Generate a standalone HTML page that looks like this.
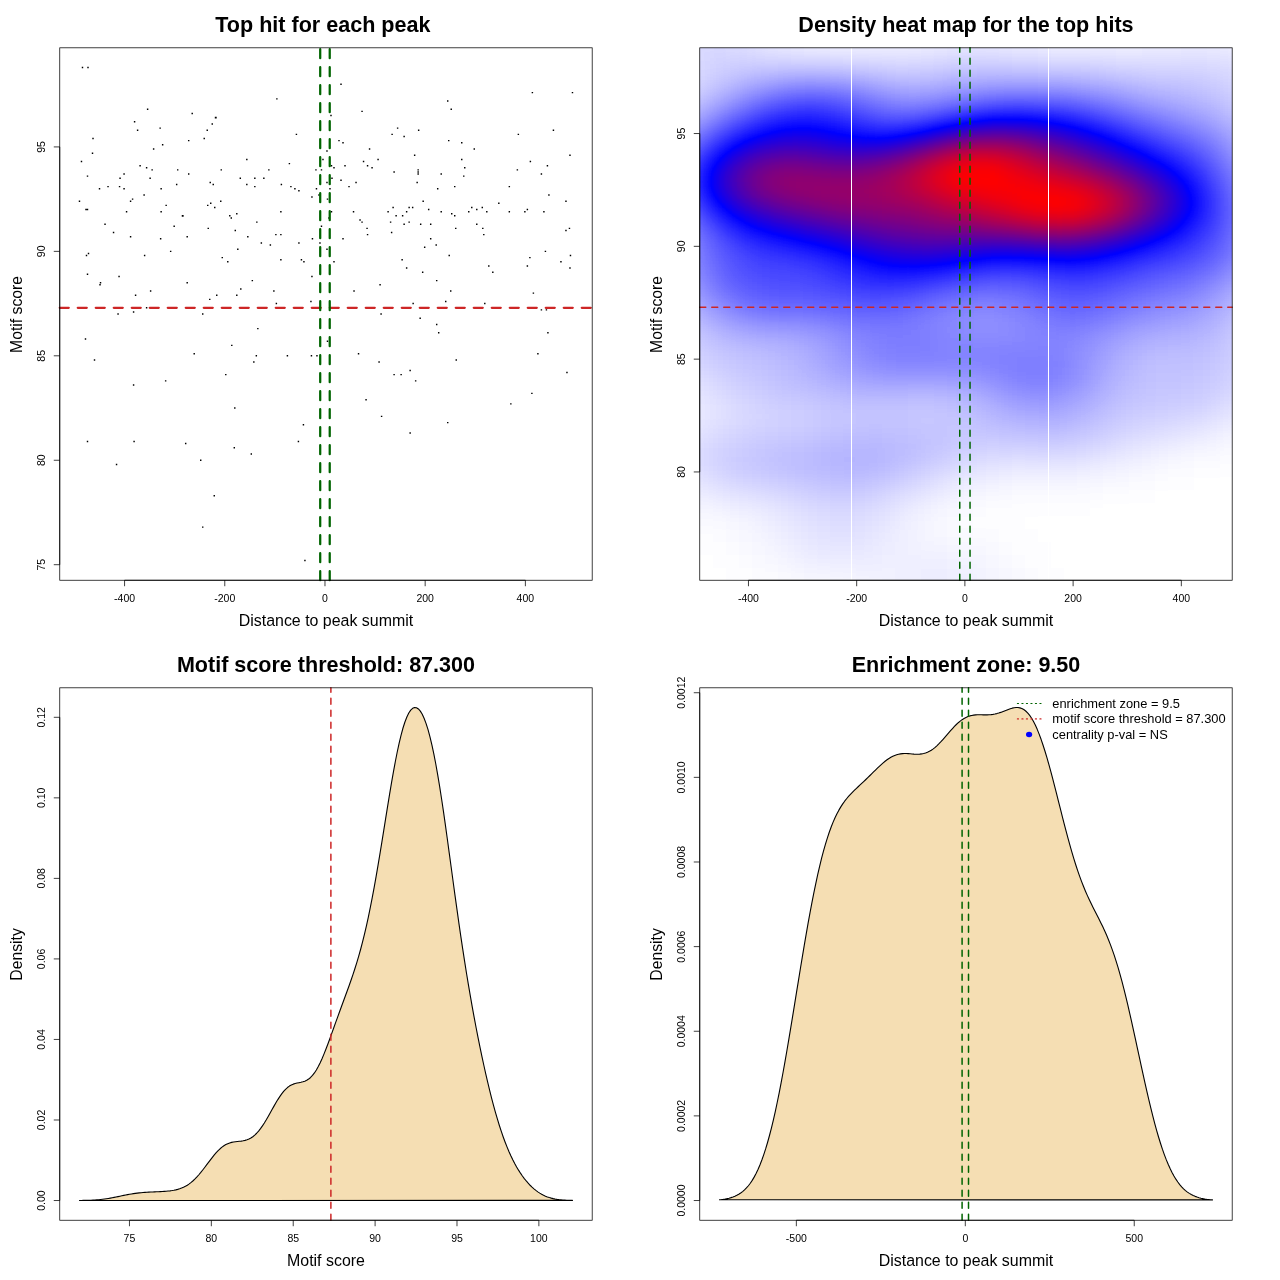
<!DOCTYPE html>
<html><head><meta charset="utf-8"><title>plot</title>
<style>html,body{margin:0;padding:0;background:#fff}svg{display:block;will-change:transform}text{font-family:"Liberation Sans",sans-serif;fill:#000}</style>
</head><body>
<svg width="1280" height="1280" viewBox="0 0 1280 1280">
<rect width="1280" height="1280" fill="#fff"/>
<path d="M81.77 66.81h1.44v1.44h-1.44zM87.28 66.81h1.44v1.44h-1.44zM146.9 108.59h1.44v1.44h-1.44zM191.49 112.77h1.44v1.44h-1.44zM214.8 116.71h1.9v1.9h-1.9zM133.87 121.12h1.44v1.44h-1.44zM211.53 123.21h1.44v1.44h-1.44zM159.42 127.39h1.44v1.44h-1.44zM136.88 129.48h1.44v1.44h-1.44zM206.52 129.48h1.44v1.44h-1.44zM92.29 137.83h1.44v1.44h-1.44zM203.51 137.83h1.44v1.44h-1.44zM187.98 139.92h1.44v1.44h-1.44zM161.93 144.1h1.44v1.44h-1.44zM152.91 148.28h1.44v1.44h-1.44zM91.79 152.46h1.44v1.44h-1.44zM80.76 160.81h1.44v1.44h-1.44zM139.38 164.99h1.44v1.44h-1.44zM145.89 167.08h1.44v1.44h-1.44zM151.41 169.17h1.44v1.44h-1.44zM176.96 169.17h1.44v1.44h-1.44zM220.54 169.17h1.44v1.44h-1.44zM123.35 173.35h1.44v1.44h-1.44zM187.98 173.35h1.44v1.44h-1.44zM86.78 175.43h1.44v1.44h-1.44zM119.34 177.52h1.44v1.44h-1.44zM149.4 177.52h1.44v1.44h-1.44zM209.52 181.7h1.44v1.44h-1.44zM212.53 183.79h1.44v1.44h-1.44zM175.95 183.79h1.44v1.44h-1.44zM107.32 185.88h1.44v1.44h-1.44zM118.84 185.88h1.44v1.44h-1.44zM98.8 187.97h1.44v1.44h-1.44zM123.35 187.97h1.44v1.44h-1.44zM160.42 187.97h1.44v1.44h-1.44zM143.39 194.24h1.44v1.44h-1.44zM131.87 198.41h1.44v1.44h-1.44zM129.86 200.5h1.44v1.44h-1.44zM78.76 200.5h1.44v1.44h-1.44zM220.04 200.5h1.44v1.44h-1.44zM210.02 202.59h1.44v1.44h-1.44zM207.02 204.68h1.44v1.44h-1.44zM165.43 204.68h1.44v1.44h-1.44zM214.03 206.77h1.44v1.44h-1.44zM85.27 208.86h1.44v1.44h-1.44zM86.78 208.86h1.44v1.44h-1.44zM125.85 210.95h1.44v1.44h-1.44zM160.42 210.95h1.44v1.44h-1.44zM181.74 214.89h1.9v1.9h-1.9zM229.06 215.12h1.44v1.44h-1.44zM230.56 217.21h1.44v1.44h-1.44zM104.31 223.48h1.44v1.44h-1.44zM340.29 83.52h1.44v1.44h-1.44zM276.16 98.14h1.44v1.44h-1.44zM361.33 110.68h1.44v1.44h-1.44zM330.27 114.86h1.44v1.44h-1.44zM396.9 127.39h1.44v1.44h-1.44zM295.7 133.66h1.44v1.44h-1.44zM391.39 133.66h1.44v1.44h-1.44zM403.41 135.74h1.44v1.44h-1.44zM338.28 139.92h1.44v1.44h-1.44zM342.29 142.01h1.44v1.44h-1.44zM368.84 148.28h1.44v1.44h-1.44zM326.26 150.37h1.44v1.44h-1.44zM413.93 154.55h1.44v1.44h-1.44zM246.1 158.72h1.44v1.44h-1.44zM322.25 158.72h1.44v1.44h-1.44zM377.36 158.72h1.44v1.44h-1.44zM362.83 160.81h1.44v1.44h-1.44zM288.68 162.9h1.44v1.44h-1.44zM330.77 164.99h1.44v1.44h-1.44zM344.29 164.99h1.44v1.44h-1.44zM366.84 164.99h1.44v1.44h-1.44zM333.27 167.08h1.44v1.44h-1.44zM371.35 167.08h1.44v1.44h-1.44zM268.14 169.17h1.44v1.44h-1.44zM315.23 169.17h1.44v1.44h-1.44zM320.75 169.17h1.44v1.44h-1.44zM393.39 171.26h1.44v1.44h-1.44zM239.58 177.52h1.44v1.44h-1.44zM254.11 177.52h1.44v1.44h-1.44zM263.13 177.52h1.44v1.44h-1.44zM331.27 177.52h1.44v1.44h-1.44zM340.29 179.61h1.44v1.44h-1.44zM326.26 181.7h1.44v1.44h-1.44zM355.32 181.7h1.44v1.44h-1.44zM246.1 183.79h1.44v1.44h-1.44zM280.67 183.79h1.44v1.44h-1.44zM254.11 185.88h1.44v1.44h-1.44zM290.18 185.88h1.44v1.44h-1.44zM348.3 185.88h1.44v1.44h-1.44zM294.19 187.97h1.44v1.44h-1.44zM315.74 187.97h1.44v1.44h-1.44zM329.26 187.97h1.44v1.44h-1.44zM298.2 190.06h1.44v1.44h-1.44zM318.24 194.24h1.44v1.44h-1.44zM311.23 196.32h1.44v1.44h-1.44zM326.76 198.41h1.44v1.44h-1.44zM392.39 206.77h1.44v1.44h-1.44zM408.42 206.77h1.44v1.44h-1.44zM411.93 206.77h1.44v1.44h-1.44zM280.16 210.95h1.44v1.44h-1.44zM330.77 210.95h1.44v1.44h-1.44zM352.81 210.95h1.44v1.44h-1.44zM387.38 210.95h1.44v1.44h-1.44zM405.92 210.95h1.44v1.44h-1.44zM236.08 213.04h1.44v1.44h-1.44zM395.4 215.12h1.44v1.44h-1.44zM401.91 215.12h1.44v1.44h-1.44zM328.26 217.21h1.44v1.44h-1.44zM359.32 219.3h1.44v1.44h-1.44zM256.12 221.39h1.44v1.44h-1.44zM361.33 221.39h1.44v1.44h-1.44zM389.88 221.39h1.44v1.44h-1.44zM408.42 221.39h1.44v1.44h-1.44zM403.41 223.48h1.44v1.44h-1.44zM531.67 91.88h1.44v1.44h-1.44zM571.75 91.88h1.44v1.44h-1.44zM447 100.23h1.44v1.44h-1.44zM450.51 108.59h1.44v1.44h-1.44zM417.94 129.48h1.44v1.44h-1.44zM552.71 129.48h1.44v1.44h-1.44zM517.64 133.66h1.44v1.44h-1.44zM448 139.92h1.44v1.44h-1.44zM461.03 142.01h1.44v1.44h-1.44zM473.55 148.28h1.44v1.44h-1.44zM569.25 154.55h1.44v1.44h-1.44zM461.03 158.72h1.44v1.44h-1.44zM529.67 160.81h1.44v1.44h-1.44zM546.7 164.99h1.44v1.44h-1.44zM464.03 167.08h1.44v1.44h-1.44zM516.64 169.17h1.44v1.44h-1.44zM417.44 169.17h1.44v1.44h-1.44zM417.44 171.26h1.44v1.44h-1.44zM417.44 173.35h1.44v1.44h-1.44zM440.49 173.35h1.44v1.44h-1.44zM540.69 173.35h1.44v1.44h-1.44zM463.03 175.43h1.44v1.44h-1.44zM416.44 181.7h1.44v1.44h-1.44zM454.01 185.88h1.44v1.44h-1.44zM508.62 185.88h1.44v1.44h-1.44zM436.98 187.97h1.44v1.44h-1.44zM548.2 194.24h1.44v1.44h-1.44zM422.45 200.5h1.44v1.44h-1.44zM565.24 200.5h1.44v1.44h-1.44zM498.1 202.59h1.44v1.44h-1.44zM471.05 206.77h1.44v1.44h-1.44zM481.57 206.77h1.44v1.44h-1.44zM427.96 208.86h1.44v1.44h-1.44zM476.06 208.86h1.44v1.44h-1.44zM526.66 208.86h1.44v1.44h-1.44zM440.49 210.95h1.44v1.44h-1.44zM468.04 210.95h1.44v1.44h-1.44zM486.08 210.95h1.44v1.44h-1.44zM508.62 210.95h1.44v1.44h-1.44zM524.15 210.95h1.44v1.44h-1.44zM543.19 210.95h1.44v1.44h-1.44zM451.01 213.04h1.44v1.44h-1.44zM454.01 215.12h1.44v1.44h-1.44zM419.95 223.48h1.44v1.44h-1.44zM429.97 223.48h1.44v1.44h-1.44zM476.06 223.48h1.44v1.44h-1.44zM173.45 225.57h1.44v1.44h-1.44zM207.52 227.66h1.44v1.44h-1.44zM234.57 229.75h1.44v1.44h-1.44zM112.83 231.84h1.44v1.44h-1.44zM129.86 236.01h1.44v1.44h-1.44zM186.48 236.01h1.44v1.44h-1.44zM159.92 238.1h1.44v1.44h-1.44zM169.94 250.64h1.44v1.44h-1.44zM87.78 252.73h1.44v1.44h-1.44zM85.77 254.81h1.44v1.44h-1.44zM143.89 254.81h1.44v1.44h-1.44zM221.55 256.9h1.44v1.44h-1.44zM227.06 261.08h1.44v1.44h-1.44zM86.78 273.62h1.44v1.44h-1.44zM118.34 275.7h1.44v1.44h-1.44zM99.8 281.97h1.44v1.44h-1.44zM99.3 284.06h1.44v1.44h-1.44zM186.48 281.97h1.44v1.44h-1.44zM149.9 290.33h1.44v1.44h-1.44zM134.87 294.5h1.44v1.44h-1.44zM216.04 294.5h1.44v1.44h-1.44zM209.02 298.68h1.44v1.44h-1.44zM145.89 307.04h1.44v1.44h-1.44zM132.87 311.22h1.44v1.44h-1.44zM117.34 313.3h1.44v1.44h-1.44zM202.01 313.3h1.44v1.44h-1.44zM84.77 338.37h1.44v1.44h-1.44zM231.07 344.64h1.44v1.44h-1.44zM193.49 352.99h1.44v1.44h-1.44zM93.79 359.26h1.44v1.44h-1.44zM225.05 373.88h1.44v1.44h-1.44zM164.93 380.15h1.44v1.44h-1.44zM132.87 384.33h1.44v1.44h-1.44zM320.75 225.57h1.44v1.44h-1.44zM366.34 227.66h1.44v1.44h-1.44zM390.89 231.84h1.44v1.44h-1.44zM275.15 233.93h1.44v1.44h-1.44zM280.16 233.93h1.44v1.44h-1.44zM366.84 233.93h1.44v1.44h-1.44zM247.1 236.01h1.44v1.44h-1.44zM311.73 238.1h1.44v1.44h-1.44zM342.29 238.1h1.44v1.44h-1.44zM260.63 242.28h1.44v1.44h-1.44zM298.2 242.28h1.44v1.44h-1.44zM319.24 242.28h1.44v1.44h-1.44zM269.64 244.37h1.44v1.44h-1.44zM237.08 248.55h1.44v1.44h-1.44zM326.26 248.55h1.44v1.44h-1.44zM280.16 258.99h1.44v1.44h-1.44zM300.71 258.99h1.44v1.44h-1.44zM303.21 261.08h1.44v1.44h-1.44zM401.41 258.99h1.44v1.44h-1.44zM333.27 261.08h1.44v1.44h-1.44zM405.92 267.35h1.44v1.44h-1.44zM311.23 275.7h1.44v1.44h-1.44zM251.61 279.88h1.44v1.44h-1.44zM379.36 284.06h1.44v1.44h-1.44zM240.08 288.24h1.44v1.44h-1.44zM273.15 290.33h1.44v1.44h-1.44zM353.31 290.33h1.44v1.44h-1.44zM236.08 294.5h1.44v1.44h-1.44zM310.22 300.77h1.44v1.44h-1.44zM275.66 302.86h1.44v1.44h-1.44zM412.43 302.86h1.44v1.44h-1.44zM380.37 313.3h1.44v1.44h-1.44zM257.12 327.93h1.44v1.44h-1.44zM326.76 340.46h1.44v1.44h-1.44zM357.82 352.99h1.44v1.44h-1.44zM255.62 355.08h1.44v1.44h-1.44zM286.68 355.08h1.44v1.44h-1.44zM310.73 355.08h1.44v1.44h-1.44zM316.24 355.08h1.44v1.44h-1.44zM253.11 361.35h1.44v1.44h-1.44zM378.36 361.35h1.44v1.44h-1.44zM409.42 369.71h1.44v1.44h-1.44zM393.39 373.88h1.44v1.44h-1.44zM400.41 373.88h1.44v1.44h-1.44zM414.94 380.15h1.44v1.44h-1.44zM365.34 398.95h1.44v1.44h-1.44zM455.02 227.66h1.44v1.44h-1.44zM482.07 227.66h1.44v1.44h-1.44zM568.74 227.66h1.44v1.44h-1.44zM565.24 229.75h1.44v1.44h-1.44zM483.07 233.93h1.44v1.44h-1.44zM429.97 238.1h1.44v1.44h-1.44zM435.48 244.37h1.44v1.44h-1.44zM423.95 246.46h1.44v1.44h-1.44zM544.7 250.64h1.44v1.44h-1.44zM448.5 254.81h1.44v1.44h-1.44zM569.75 254.81h1.44v1.44h-1.44zM529.16 256.9h1.44v1.44h-1.44zM560.23 261.08h1.44v1.44h-1.44zM488.08 265.26h1.44v1.44h-1.44zM526.66 265.26h1.44v1.44h-1.44zM569.25 267.35h1.44v1.44h-1.44zM421.95 271.53h1.44v1.44h-1.44zM492.09 271.53h1.44v1.44h-1.44zM435.98 279.88h1.44v1.44h-1.44zM450.01 290.33h1.44v1.44h-1.44zM532.67 292.42h1.44v1.44h-1.44zM445 300.77h1.44v1.44h-1.44zM484.07 302.86h1.44v1.44h-1.44zM540.69 309.13h1.44v1.44h-1.44zM545.7 309.13h1.44v1.44h-1.44zM419.44 317.48h1.44v1.44h-1.44zM435.98 323.75h1.44v1.44h-1.44zM437.98 332.11h1.44v1.44h-1.44zM547.2 332.11h1.44v1.44h-1.44zM537.18 352.99h1.44v1.44h-1.44zM455.52 359.26h1.44v1.44h-1.44zM566.24 371.8h1.44v1.44h-1.44zM531.17 392.68h1.44v1.44h-1.44zM510.13 403.13h1.44v1.44h-1.44zM234.07 407.31h1.44v1.44h-1.44zM86.78 440.73h1.44v1.44h-1.44zM133.37 440.73h1.44v1.44h-1.44zM184.97 442.82h1.44v1.44h-1.44zM233.57 447h1.44v1.44h-1.44zM200 459.53h1.44v1.44h-1.44zM115.83 463.71h1.44v1.44h-1.44zM213.53 495.04h1.44v1.44h-1.44zM202.01 526.38h1.44v1.44h-1.44zM380.87 415.66h1.44v1.44h-1.44zM302.71 424.02h1.44v1.44h-1.44zM409.42 432.37h1.44v1.44h-1.44zM297.7 440.73h1.44v1.44h-1.44zM250.6 453.26h1.44v1.44h-1.44zM304.21 559.8h1.44v1.44h-1.44zM447 421.93h1.44v1.44h-1.44z" fill="#000"/>
<path d="M59.76 307.76L592.19 307.76" stroke="#cd2626" stroke-width="2.25" stroke-dasharray="9 9" stroke-linecap="round" fill="none"/>
<path d="M320.21 580.24L320.21 47.81" stroke="#006400" stroke-width="2.25" stroke-dasharray="9 9" stroke-linecap="round" fill="none"/>
<path d="M329.73 580.24L329.73 47.81" stroke="#006400" stroke-width="2.25" stroke-dasharray="9 9" stroke-linecap="round" fill="none"/>
<rect x="59.76" y="47.81" width="532.43" height="532.43" fill="none" stroke="#000" stroke-width="0.75"/>
<path d="M124.57 580.24H525.38M124.57 580.24v5.98M224.77 580.24v5.98M324.97 580.24v5.98M425.17 580.24v5.98M525.38 580.24v5.98M59.76 146.91V564.7M59.76 564.7h-5.98M59.76 460.25h-5.98M59.76 355.8h-5.98M59.76 251.36h-5.98M59.76 146.91h-5.98" fill="none" stroke="#000" stroke-width="0.75"/>
<g font-size="10.5" text-anchor="middle">
<text x="124.57" y="601.7">-400</text>
<text x="224.77" y="601.7">-200</text>
<text x="324.97" y="601.7">0</text>
<text x="425.17" y="601.7">200</text>
<text x="525.38" y="601.7">400</text>
<text transform="translate(45.4 564.7) rotate(-90)">75</text>
<text transform="translate(45.4 460.25) rotate(-90)">80</text>
<text transform="translate(45.4 355.8) rotate(-90)">85</text>
<text transform="translate(45.4 251.36) rotate(-90)">90</text>
<text transform="translate(45.4 146.91) rotate(-90)">95</text>
</g>
<text x="325.98" y="625.7" font-size="15.95" text-anchor="middle">Distance to peak summit</text>
<text transform="translate(21.5 314.42) rotate(-90)" font-size="15.75" text-anchor="middle">Motif score</text>
<text x="322.88" y="31.9" font-size="21.55" font-weight="bold" text-anchor="middle">Top hit for each peak</text>
<defs><clipPath id="hc"><rect x="699.76" y="47.81" width="532.43" height="532.43"/></clipPath>
<filter id="hf" filterUnits="userSpaceOnUse" x="660.76" y="8.81" width="611" height="611" color-interpolation-filters="sRGB"><feGaussianBlur stdDeviation="7.0"/><feComponentTransfer><feFuncR type="table" tableValues="1 0 1"/><feFuncG type="table" tableValues="1 0 0"/><feFuncB type="table" tableValues="1 1 0"/></feComponentTransfer></filter></defs>
<g clip-path="url(#hc)"><g filter="url(#hf)" shape-rendering="crispEdges">
<rect x="660.76" y="8.81" width="611" height="611" fill="#000"/>
<g transform="translate(0 8.81)"><rect x="660.76" width="13" height="13" fill="#060606"/><rect x="673.76" width="13" height="13" fill="#070707"/><rect x="686.76" width="13" height="13" fill="#080808"/><rect x="699.76" width="13" height="13" fill="#080808"/><rect x="712.76" width="13" height="13" fill="#080808"/><rect x="725.76" width="13" height="13" fill="#070707"/><rect x="738.76" width="13" height="13" fill="#060606"/><rect x="751.76" width="13" height="13" fill="#050505"/><rect x="764.76" width="13" height="13" fill="#040404"/><rect x="777.76" width="13" height="13" fill="#030303"/><rect x="790.76" width="13" height="13" fill="#020202"/><rect x="803.76" width="13" height="13" fill="#010101"/><rect x="816.76" width="13" height="13" fill="#010101"/><rect x="829.76" width="13" height="13" fill="#010101"/><rect x="842.76" width="13" height="13" fill="#010101"/><rect x="855.76" width="13" height="13" fill="#010101"/><rect x="868.76" width="13" height="13" fill="#010101"/><rect x="881.76" width="13" height="13" fill="#010101"/><rect x="894.76" width="13" height="13" fill="#010101"/><rect x="907.76" width="13" height="13" fill="#010101"/><rect x="920.76" width="13" height="13" fill="#010101"/><rect x="933.76" width="13" height="13" fill="#020202"/><rect x="946.76" width="13" height="13" fill="#020202"/><rect x="959.76" width="13" height="13" fill="#020202"/><rect x="972.76" width="13" height="13" fill="#020202"/><rect x="985.76" width="13" height="13" fill="#020202"/><rect x="998.76" width="13" height="13" fill="#020202"/><rect x="1011.76" width="13" height="13" fill="#020202"/><rect x="1024.76" width="13" height="13" fill="#010101"/><rect x="1037.76" width="13" height="13" fill="#010101"/><rect x="1050.76" width="13" height="13" fill="#010101"/><rect x="1063.76" width="13" height="13" fill="#010101"/><rect x="1076.76" width="13" height="13" fill="#010101"/><rect x="1089.76" width="13" height="13" fill="#010101"/><rect x="1102.76" width="13" height="13" fill="#010101"/><rect x="1115.76" width="13" height="13" fill="#010101"/><rect x="1128.76" width="13" height="13" fill="#010101"/><rect x="1141.76" width="13" height="13" fill="#010101"/><rect x="1154.76" width="13" height="13" fill="#010101"/><rect x="1167.76" width="13" height="13" fill="#010101"/><rect x="1180.76" width="13" height="13" fill="#010101"/><rect x="1193.76" width="13" height="13" fill="#010101"/><rect x="1206.76" width="13" height="13" fill="#010101"/><rect x="1219.76" width="13" height="13" fill="#010101"/><rect x="1232.76" width="13" height="13" fill="#010101"/><rect x="1245.76" width="13" height="13" fill="#010101"/><rect x="1258.76" width="13" height="13" fill="#010101"/></g>
<g transform="translate(0 21.81)"><rect x="660.76" width="13" height="13" fill="#0a0a0a"/><rect x="673.76" width="13" height="13" fill="#0c0c0c"/><rect x="686.76" width="13" height="13" fill="#0d0d0d"/><rect x="699.76" width="13" height="13" fill="#0e0e0e"/><rect x="712.76" width="13" height="13" fill="#0d0d0d"/><rect x="725.76" width="13" height="13" fill="#0c0c0c"/><rect x="738.76" width="13" height="13" fill="#0b0b0b"/><rect x="751.76" width="13" height="13" fill="#090909"/><rect x="764.76" width="13" height="13" fill="#070707"/><rect x="777.76" width="13" height="13" fill="#050505"/><rect x="790.76" width="13" height="13" fill="#040404"/><rect x="803.76" width="13" height="13" fill="#030303"/><rect x="816.76" width="13" height="13" fill="#020202"/><rect x="829.76" width="13" height="13" fill="#020202"/><rect x="842.76" width="13" height="13" fill="#020202"/><rect x="855.76" width="13" height="13" fill="#020202"/><rect x="868.76" width="13" height="13" fill="#020202"/><rect x="881.76" width="13" height="13" fill="#020202"/><rect x="894.76" width="13" height="13" fill="#030303"/><rect x="907.76" width="13" height="13" fill="#030303"/><rect x="920.76" width="13" height="13" fill="#040404"/><rect x="933.76" width="13" height="13" fill="#040404"/><rect x="946.76" width="13" height="13" fill="#040404"/><rect x="959.76" width="13" height="13" fill="#050505"/><rect x="972.76" width="13" height="13" fill="#050505"/><rect x="985.76" width="13" height="13" fill="#050505"/><rect x="998.76" width="13" height="13" fill="#040404"/><rect x="1011.76" width="13" height="13" fill="#040404"/><rect x="1024.76" width="13" height="13" fill="#030303"/><rect x="1037.76" width="13" height="13" fill="#030303"/><rect x="1050.76" width="13" height="13" fill="#030303"/><rect x="1063.76" width="13" height="13" fill="#030303"/><rect x="1076.76" width="13" height="13" fill="#020202"/><rect x="1089.76" width="13" height="13" fill="#020202"/><rect x="1102.76" width="13" height="13" fill="#020202"/><rect x="1115.76" width="13" height="13" fill="#030303"/><rect x="1128.76" width="13" height="13" fill="#030303"/><rect x="1141.76" width="13" height="13" fill="#030303"/><rect x="1154.76" width="13" height="13" fill="#030303"/><rect x="1167.76" width="13" height="13" fill="#030303"/><rect x="1180.76" width="13" height="13" fill="#040404"/><rect x="1193.76" width="13" height="13" fill="#040404"/><rect x="1206.76" width="13" height="13" fill="#040404"/><rect x="1219.76" width="13" height="13" fill="#040404"/><rect x="1232.76" width="13" height="13" fill="#030303"/><rect x="1245.76" width="13" height="13" fill="#030303"/><rect x="1258.76" width="13" height="13" fill="#020202"/></g>
<g transform="translate(0 34.81)"><rect x="660.76" width="13" height="13" fill="#0d0d0d"/><rect x="673.76" width="13" height="13" fill="#0f0f0f"/><rect x="686.76" width="13" height="13" fill="#111111"/><rect x="699.76" width="13" height="13" fill="#121212"/><rect x="712.76" width="13" height="13" fill="#121212"/><rect x="725.76" width="13" height="13" fill="#111111"/><rect x="738.76" width="13" height="13" fill="#0f0f0f"/><rect x="751.76" width="13" height="13" fill="#0d0d0d"/><rect x="764.76" width="13" height="13" fill="#0b0b0b"/><rect x="777.76" width="13" height="13" fill="#090909"/><rect x="790.76" width="13" height="13" fill="#080808"/><rect x="803.76" width="13" height="13" fill="#070707"/><rect x="816.76" width="13" height="13" fill="#060606"/><rect x="829.76" width="13" height="13" fill="#060606"/><rect x="842.76" width="13" height="13" fill="#060606"/><rect x="855.76" width="13" height="13" fill="#060606"/><rect x="868.76" width="13" height="13" fill="#060606"/><rect x="881.76" width="13" height="13" fill="#060606"/><rect x="894.76" width="13" height="13" fill="#060606"/><rect x="907.76" width="13" height="13" fill="#070707"/><rect x="920.76" width="13" height="13" fill="#080808"/><rect x="933.76" width="13" height="13" fill="#080808"/><rect x="946.76" width="13" height="13" fill="#090909"/><rect x="959.76" width="13" height="13" fill="#090909"/><rect x="972.76" width="13" height="13" fill="#0a0a0a"/><rect x="985.76" width="13" height="13" fill="#090909"/><rect x="998.76" width="13" height="13" fill="#090909"/><rect x="1011.76" width="13" height="13" fill="#080808"/><rect x="1024.76" width="13" height="13" fill="#080808"/><rect x="1037.76" width="13" height="13" fill="#070707"/><rect x="1050.76" width="13" height="13" fill="#060606"/><rect x="1063.76" width="13" height="13" fill="#060606"/><rect x="1076.76" width="13" height="13" fill="#060606"/><rect x="1089.76" width="13" height="13" fill="#060606"/><rect x="1102.76" width="13" height="13" fill="#060606"/><rect x="1115.76" width="13" height="13" fill="#060606"/><rect x="1128.76" width="13" height="13" fill="#060606"/><rect x="1141.76" width="13" height="13" fill="#070707"/><rect x="1154.76" width="13" height="13" fill="#070707"/><rect x="1167.76" width="13" height="13" fill="#070707"/><rect x="1180.76" width="13" height="13" fill="#080808"/><rect x="1193.76" width="13" height="13" fill="#080808"/><rect x="1206.76" width="13" height="13" fill="#080808"/><rect x="1219.76" width="13" height="13" fill="#070707"/><rect x="1232.76" width="13" height="13" fill="#070707"/><rect x="1245.76" width="13" height="13" fill="#060606"/><rect x="1258.76" width="13" height="13" fill="#050505"/></g>
<g transform="translate(0 47.81)"><rect x="660.76" width="13" height="13" fill="#0d0d0d"/><rect x="673.76" width="13" height="13" fill="#101010"/><rect x="686.76" width="13" height="13" fill="#121212"/><rect x="699.76" width="13" height="13" fill="#141414"/><rect x="712.76" width="13" height="13" fill="#151515"/><rect x="725.76" width="13" height="13" fill="#141414"/><rect x="738.76" width="13" height="13" fill="#141414"/><rect x="751.76" width="13" height="13" fill="#121212"/><rect x="764.76" width="13" height="13" fill="#111111"/><rect x="777.76" width="13" height="13" fill="#101010"/><rect x="790.76" width="13" height="13" fill="#0f0f0f"/><rect x="803.76" width="13" height="13" fill="#0e0e0e"/><rect x="816.76" width="13" height="13" fill="#0e0e0e"/><rect x="829.76" width="13" height="13" fill="#0d0d0d"/><rect x="842.76" width="13" height="13" fill="#0d0d0d"/><rect x="855.76" width="13" height="13" fill="#0d0d0d"/><rect x="868.76" width="13" height="13" fill="#0d0d0d"/><rect x="881.76" width="13" height="13" fill="#0d0d0d"/><rect x="894.76" width="13" height="13" fill="#0d0d0d"/><rect x="907.76" width="13" height="13" fill="#0d0d0d"/><rect x="920.76" width="13" height="13" fill="#0e0e0e"/><rect x="933.76" width="13" height="13" fill="#0f0f0f"/><rect x="946.76" width="13" height="13" fill="#101010"/><rect x="959.76" width="13" height="13" fill="#111111"/><rect x="972.76" width="13" height="13" fill="#111111"/><rect x="985.76" width="13" height="13" fill="#111111"/><rect x="998.76" width="13" height="13" fill="#101010"/><rect x="1011.76" width="13" height="13" fill="#0f0f0f"/><rect x="1024.76" width="13" height="13" fill="#0f0f0f"/><rect x="1037.76" width="13" height="13" fill="#0e0e0e"/><rect x="1050.76" width="13" height="13" fill="#0d0d0d"/><rect x="1063.76" width="13" height="13" fill="#0d0d0d"/><rect x="1076.76" width="13" height="13" fill="#0d0d0d"/><rect x="1089.76" width="13" height="13" fill="#0d0d0d"/><rect x="1102.76" width="13" height="13" fill="#0d0d0d"/><rect x="1115.76" width="13" height="13" fill="#0c0c0c"/><rect x="1128.76" width="13" height="13" fill="#0c0c0c"/><rect x="1141.76" width="13" height="13" fill="#0d0d0d"/><rect x="1154.76" width="13" height="13" fill="#0d0d0d"/><rect x="1167.76" width="13" height="13" fill="#0d0d0d"/><rect x="1180.76" width="13" height="13" fill="#0e0e0e"/><rect x="1193.76" width="13" height="13" fill="#0e0e0e"/><rect x="1206.76" width="13" height="13" fill="#0d0d0d"/><rect x="1219.76" width="13" height="13" fill="#0d0d0d"/><rect x="1232.76" width="13" height="13" fill="#0b0b0b"/><rect x="1245.76" width="13" height="13" fill="#0a0a0a"/><rect x="1258.76" width="13" height="13" fill="#080808"/></g>
<g transform="translate(0 60.81)"><rect x="660.76" width="13" height="13" fill="#0c0c0c"/><rect x="673.76" width="13" height="13" fill="#0f0f0f"/><rect x="686.76" width="13" height="13" fill="#121212"/><rect x="699.76" width="13" height="13" fill="#151515"/><rect x="712.76" width="13" height="13" fill="#171717"/><rect x="725.76" width="13" height="13" fill="#191919"/><rect x="738.76" width="13" height="13" fill="#1a1a1a"/><rect x="751.76" width="13" height="13" fill="#1b1b1b"/><rect x="764.76" width="13" height="13" fill="#1b1b1b"/><rect x="777.76" width="13" height="13" fill="#1c1c1c"/><rect x="790.76" width="13" height="13" fill="#1c1c1c"/><rect x="803.76" width="13" height="13" fill="#1c1c1c"/><rect x="816.76" width="13" height="13" fill="#1c1c1c"/><rect x="829.76" width="13" height="13" fill="#1b1b1b"/><rect x="842.76" width="13" height="13" fill="#1a1a1a"/><rect x="855.76" width="13" height="13" fill="#191919"/><rect x="868.76" width="13" height="13" fill="#181818"/><rect x="881.76" width="13" height="13" fill="#171717"/><rect x="894.76" width="13" height="13" fill="#161616"/><rect x="907.76" width="13" height="13" fill="#171717"/><rect x="920.76" width="13" height="13" fill="#171717"/><rect x="933.76" width="13" height="13" fill="#181818"/><rect x="946.76" width="13" height="13" fill="#1a1a1a"/><rect x="959.76" width="13" height="13" fill="#1b1b1b"/><rect x="972.76" width="13" height="13" fill="#1b1b1b"/><rect x="985.76" width="13" height="13" fill="#1b1b1b"/><rect x="998.76" width="13" height="13" fill="#1b1b1b"/><rect x="1011.76" width="13" height="13" fill="#1a1a1a"/><rect x="1024.76" width="13" height="13" fill="#1a1a1a"/><rect x="1037.76" width="13" height="13" fill="#191919"/><rect x="1050.76" width="13" height="13" fill="#181818"/><rect x="1063.76" width="13" height="13" fill="#181818"/><rect x="1076.76" width="13" height="13" fill="#181818"/><rect x="1089.76" width="13" height="13" fill="#171717"/><rect x="1102.76" width="13" height="13" fill="#161616"/><rect x="1115.76" width="13" height="13" fill="#151515"/><rect x="1128.76" width="13" height="13" fill="#151515"/><rect x="1141.76" width="13" height="13" fill="#141414"/><rect x="1154.76" width="13" height="13" fill="#141414"/><rect x="1167.76" width="13" height="13" fill="#141414"/><rect x="1180.76" width="13" height="13" fill="#141414"/><rect x="1193.76" width="13" height="13" fill="#141414"/><rect x="1206.76" width="13" height="13" fill="#131313"/><rect x="1219.76" width="13" height="13" fill="#121212"/><rect x="1232.76" width="13" height="13" fill="#101010"/><rect x="1245.76" width="13" height="13" fill="#0d0d0d"/><rect x="1258.76" width="13" height="13" fill="#0b0b0b"/></g>
<g transform="translate(0 73.81)"><rect x="660.76" width="13" height="13" fill="#0b0b0b"/><rect x="673.76" width="13" height="13" fill="#0f0f0f"/><rect x="686.76" width="13" height="13" fill="#131313"/><rect x="699.76" width="13" height="13" fill="#171717"/><rect x="712.76" width="13" height="13" fill="#1c1c1c"/><rect x="725.76" width="13" height="13" fill="#202020"/><rect x="738.76" width="13" height="13" fill="#242424"/><rect x="751.76" width="13" height="13" fill="#282828"/><rect x="764.76" width="13" height="13" fill="#2b2b2b"/><rect x="777.76" width="13" height="13" fill="#2e2e2e"/><rect x="790.76" width="13" height="13" fill="#303030"/><rect x="803.76" width="13" height="13" fill="#313131"/><rect x="816.76" width="13" height="13" fill="#303030"/><rect x="829.76" width="13" height="13" fill="#2f2f2f"/><rect x="842.76" width="13" height="13" fill="#2d2d2d"/><rect x="855.76" width="13" height="13" fill="#2a2a2a"/><rect x="868.76" width="13" height="13" fill="#272727"/><rect x="881.76" width="13" height="13" fill="#242424"/><rect x="894.76" width="13" height="13" fill="#232323"/><rect x="907.76" width="13" height="13" fill="#222222"/><rect x="920.76" width="13" height="13" fill="#232323"/><rect x="933.76" width="13" height="13" fill="#242424"/><rect x="946.76" width="13" height="13" fill="#262626"/><rect x="959.76" width="13" height="13" fill="#272727"/><rect x="972.76" width="13" height="13" fill="#292929"/><rect x="985.76" width="13" height="13" fill="#2a2a2a"/><rect x="998.76" width="13" height="13" fill="#2a2a2a"/><rect x="1011.76" width="13" height="13" fill="#2a2a2a"/><rect x="1024.76" width="13" height="13" fill="#2a2a2a"/><rect x="1037.76" width="13" height="13" fill="#292929"/><rect x="1050.76" width="13" height="13" fill="#292929"/><rect x="1063.76" width="13" height="13" fill="#282828"/><rect x="1076.76" width="13" height="13" fill="#262626"/><rect x="1089.76" width="13" height="13" fill="#252525"/><rect x="1102.76" width="13" height="13" fill="#232323"/><rect x="1115.76" width="13" height="13" fill="#212121"/><rect x="1128.76" width="13" height="13" fill="#1f1f1f"/><rect x="1141.76" width="13" height="13" fill="#1d1d1d"/><rect x="1154.76" width="13" height="13" fill="#1c1c1c"/><rect x="1167.76" width="13" height="13" fill="#1c1c1c"/><rect x="1180.76" width="13" height="13" fill="#1b1b1b"/><rect x="1193.76" width="13" height="13" fill="#1a1a1a"/><rect x="1206.76" width="13" height="13" fill="#181818"/><rect x="1219.76" width="13" height="13" fill="#161616"/><rect x="1232.76" width="13" height="13" fill="#131313"/><rect x="1245.76" width="13" height="13" fill="#101010"/><rect x="1258.76" width="13" height="13" fill="#0d0d0d"/></g>
<g transform="translate(0 86.81)"><rect x="660.76" width="13" height="13" fill="#0d0d0d"/><rect x="673.76" width="13" height="13" fill="#121212"/><rect x="686.76" width="13" height="13" fill="#171717"/><rect x="699.76" width="13" height="13" fill="#1e1e1e"/><rect x="712.76" width="13" height="13" fill="#242424"/><rect x="725.76" width="13" height="13" fill="#2b2b2b"/><rect x="738.76" width="13" height="13" fill="#333333"/><rect x="751.76" width="13" height="13" fill="#393939"/><rect x="764.76" width="13" height="13" fill="#3f3f3f"/><rect x="777.76" width="13" height="13" fill="#444444"/><rect x="790.76" width="13" height="13" fill="#474747"/><rect x="803.76" width="13" height="13" fill="#484848"/><rect x="816.76" width="13" height="13" fill="#484848"/><rect x="829.76" width="13" height="13" fill="#464646"/><rect x="842.76" width="13" height="13" fill="#424242"/><rect x="855.76" width="13" height="13" fill="#3d3d3d"/><rect x="868.76" width="13" height="13" fill="#383838"/><rect x="881.76" width="13" height="13" fill="#343434"/><rect x="894.76" width="13" height="13" fill="#313131"/><rect x="907.76" width="13" height="13" fill="#303030"/><rect x="920.76" width="13" height="13" fill="#313131"/><rect x="933.76" width="13" height="13" fill="#333333"/><rect x="946.76" width="13" height="13" fill="#363636"/><rect x="959.76" width="13" height="13" fill="#393939"/><rect x="972.76" width="13" height="13" fill="#3c3c3c"/><rect x="985.76" width="13" height="13" fill="#3e3e3e"/><rect x="998.76" width="13" height="13" fill="#404040"/><rect x="1011.76" width="13" height="13" fill="#404040"/><rect x="1024.76" width="13" height="13" fill="#404040"/><rect x="1037.76" width="13" height="13" fill="#3f3f3f"/><rect x="1050.76" width="13" height="13" fill="#3e3e3e"/><rect x="1063.76" width="13" height="13" fill="#3c3c3c"/><rect x="1076.76" width="13" height="13" fill="#393939"/><rect x="1089.76" width="13" height="13" fill="#363636"/><rect x="1102.76" width="13" height="13" fill="#333333"/><rect x="1115.76" width="13" height="13" fill="#2f2f2f"/><rect x="1128.76" width="13" height="13" fill="#2b2b2b"/><rect x="1141.76" width="13" height="13" fill="#282828"/><rect x="1154.76" width="13" height="13" fill="#262626"/><rect x="1167.76" width="13" height="13" fill="#242424"/><rect x="1180.76" width="13" height="13" fill="#222222"/><rect x="1193.76" width="13" height="13" fill="#202020"/><rect x="1206.76" width="13" height="13" fill="#1d1d1d"/><rect x="1219.76" width="13" height="13" fill="#1a1a1a"/><rect x="1232.76" width="13" height="13" fill="#161616"/><rect x="1245.76" width="13" height="13" fill="#121212"/><rect x="1258.76" width="13" height="13" fill="#0e0e0e"/></g>
<g transform="translate(0 99.81)"><rect x="660.76" width="13" height="13" fill="#111111"/><rect x="673.76" width="13" height="13" fill="#181818"/><rect x="686.76" width="13" height="13" fill="#1f1f1f"/><rect x="699.76" width="13" height="13" fill="#282828"/><rect x="712.76" width="13" height="13" fill="#313131"/><rect x="725.76" width="13" height="13" fill="#3b3b3b"/><rect x="738.76" width="13" height="13" fill="#444444"/><rect x="751.76" width="13" height="13" fill="#4d4d4d"/><rect x="764.76" width="13" height="13" fill="#555555"/><rect x="777.76" width="13" height="13" fill="#5a5a5a"/><rect x="790.76" width="13" height="13" fill="#5e5e5e"/><rect x="803.76" width="13" height="13" fill="#5f5f5f"/><rect x="816.76" width="13" height="13" fill="#5e5e5e"/><rect x="829.76" width="13" height="13" fill="#5a5a5a"/><rect x="842.76" width="13" height="13" fill="#555555"/><rect x="855.76" width="13" height="13" fill="#4f4f4f"/><rect x="868.76" width="13" height="13" fill="#494949"/><rect x="881.76" width="13" height="13" fill="#454545"/><rect x="894.76" width="13" height="13" fill="#424242"/><rect x="907.76" width="13" height="13" fill="#424242"/><rect x="920.76" width="13" height="13" fill="#444444"/><rect x="933.76" width="13" height="13" fill="#484848"/><rect x="946.76" width="13" height="13" fill="#4d4d4d"/><rect x="959.76" width="13" height="13" fill="#525252"/><rect x="972.76" width="13" height="13" fill="#565656"/><rect x="985.76" width="13" height="13" fill="#5a5a5a"/><rect x="998.76" width="13" height="13" fill="#5c5c5c"/><rect x="1011.76" width="13" height="13" fill="#5d5d5d"/><rect x="1024.76" width="13" height="13" fill="#5c5c5c"/><rect x="1037.76" width="13" height="13" fill="#5a5a5a"/><rect x="1050.76" width="13" height="13" fill="#585858"/><rect x="1063.76" width="13" height="13" fill="#555555"/><rect x="1076.76" width="13" height="13" fill="#505050"/><rect x="1089.76" width="13" height="13" fill="#4b4b4b"/><rect x="1102.76" width="13" height="13" fill="#464646"/><rect x="1115.76" width="13" height="13" fill="#404040"/><rect x="1128.76" width="13" height="13" fill="#3b3b3b"/><rect x="1141.76" width="13" height="13" fill="#363636"/><rect x="1154.76" width="13" height="13" fill="#323232"/><rect x="1167.76" width="13" height="13" fill="#2e2e2e"/><rect x="1180.76" width="13" height="13" fill="#2b2b2b"/><rect x="1193.76" width="13" height="13" fill="#272727"/><rect x="1206.76" width="13" height="13" fill="#242424"/><rect x="1219.76" width="13" height="13" fill="#1f1f1f"/><rect x="1232.76" width="13" height="13" fill="#1a1a1a"/><rect x="1245.76" width="13" height="13" fill="#151515"/><rect x="1258.76" width="13" height="13" fill="#101010"/></g>
<g transform="translate(0 112.81)"><rect x="660.76" width="13" height="13" fill="#181818"/><rect x="673.76" width="13" height="13" fill="#212121"/><rect x="686.76" width="13" height="13" fill="#2b2b2b"/><rect x="699.76" width="13" height="13" fill="#363636"/><rect x="712.76" width="13" height="13" fill="#424242"/><rect x="725.76" width="13" height="13" fill="#4e4e4e"/><rect x="738.76" width="13" height="13" fill="#585858"/><rect x="751.76" width="13" height="13" fill="#626262"/><rect x="764.76" width="13" height="13" fill="#6a6a6a"/><rect x="777.76" width="13" height="13" fill="#6f6f6f"/><rect x="790.76" width="13" height="13" fill="#727272"/><rect x="803.76" width="13" height="13" fill="#727272"/><rect x="816.76" width="13" height="13" fill="#707070"/><rect x="829.76" width="13" height="13" fill="#6c6c6c"/><rect x="842.76" width="13" height="13" fill="#676767"/><rect x="855.76" width="13" height="13" fill="#616161"/><rect x="868.76" width="13" height="13" fill="#5c5c5c"/><rect x="881.76" width="13" height="13" fill="#585858"/><rect x="894.76" width="13" height="13" fill="#585858"/><rect x="907.76" width="13" height="13" fill="#5a5a5a"/><rect x="920.76" width="13" height="13" fill="#5f5f5f"/><rect x="933.76" width="13" height="13" fill="#656565"/><rect x="946.76" width="13" height="13" fill="#6d6d6d"/><rect x="959.76" width="13" height="13" fill="#747474"/><rect x="972.76" width="13" height="13" fill="#7a7a7a"/><rect x="985.76" width="13" height="13" fill="#7e7e7e"/><rect x="998.76" width="13" height="13" fill="#7f7f7f"/><rect x="1011.76" width="13" height="13" fill="#7f7f7f"/><rect x="1024.76" width="13" height="13" fill="#7d7d7d"/><rect x="1037.76" width="13" height="13" fill="#7a7a7a"/><rect x="1050.76" width="13" height="13" fill="#757575"/><rect x="1063.76" width="13" height="13" fill="#707070"/><rect x="1076.76" width="13" height="13" fill="#6a6a6a"/><rect x="1089.76" width="13" height="13" fill="#636363"/><rect x="1102.76" width="13" height="13" fill="#5b5b5b"/><rect x="1115.76" width="13" height="13" fill="#545454"/><rect x="1128.76" width="13" height="13" fill="#4d4d4d"/><rect x="1141.76" width="13" height="13" fill="#474747"/><rect x="1154.76" width="13" height="13" fill="#414141"/><rect x="1167.76" width="13" height="13" fill="#3c3c3c"/><rect x="1180.76" width="13" height="13" fill="#373737"/><rect x="1193.76" width="13" height="13" fill="#323232"/><rect x="1206.76" width="13" height="13" fill="#2c2c2c"/><rect x="1219.76" width="13" height="13" fill="#262626"/><rect x="1232.76" width="13" height="13" fill="#202020"/><rect x="1245.76" width="13" height="13" fill="#191919"/><rect x="1258.76" width="13" height="13" fill="#131313"/></g>
<g transform="translate(0 125.81)"><rect x="660.76" width="13" height="13" fill="#212121"/><rect x="673.76" width="13" height="13" fill="#2d2d2d"/><rect x="686.76" width="13" height="13" fill="#3a3a3a"/><rect x="699.76" width="13" height="13" fill="#484848"/><rect x="712.76" width="13" height="13" fill="#565656"/><rect x="725.76" width="13" height="13" fill="#636363"/><rect x="738.76" width="13" height="13" fill="#6f6f6f"/><rect x="751.76" width="13" height="13" fill="#787878"/><rect x="764.76" width="13" height="13" fill="#7f7f7f"/><rect x="777.76" width="13" height="13" fill="#848484"/><rect x="790.76" width="13" height="13" fill="#858585"/><rect x="803.76" width="13" height="13" fill="#858585"/><rect x="816.76" width="13" height="13" fill="#828282"/><rect x="829.76" width="13" height="13" fill="#7e7e7e"/><rect x="842.76" width="13" height="13" fill="#797979"/><rect x="855.76" width="13" height="13" fill="#757575"/><rect x="868.76" width="13" height="13" fill="#727272"/><rect x="881.76" width="13" height="13" fill="#727272"/><rect x="894.76" width="13" height="13" fill="#757575"/><rect x="907.76" width="13" height="13" fill="#7b7b7b"/><rect x="920.76" width="13" height="13" fill="#838383"/><rect x="933.76" width="13" height="13" fill="#8d8d8d"/><rect x="946.76" width="13" height="13" fill="#969696"/><rect x="959.76" width="13" height="13" fill="#9f9f9f"/><rect x="972.76" width="13" height="13" fill="#a5a5a5"/><rect x="985.76" width="13" height="13" fill="#a7a7a7"/><rect x="998.76" width="13" height="13" fill="#a7a7a7"/><rect x="1011.76" width="13" height="13" fill="#a5a5a5"/><rect x="1024.76" width="13" height="13" fill="#a0a0a0"/><rect x="1037.76" width="13" height="13" fill="#9a9a9a"/><rect x="1050.76" width="13" height="13" fill="#949494"/><rect x="1063.76" width="13" height="13" fill="#8c8c8c"/><rect x="1076.76" width="13" height="13" fill="#848484"/><rect x="1089.76" width="13" height="13" fill="#7c7c7c"/><rect x="1102.76" width="13" height="13" fill="#737373"/><rect x="1115.76" width="13" height="13" fill="#6a6a6a"/><rect x="1128.76" width="13" height="13" fill="#616161"/><rect x="1141.76" width="13" height="13" fill="#595959"/><rect x="1154.76" width="13" height="13" fill="#525252"/><rect x="1167.76" width="13" height="13" fill="#4b4b4b"/><rect x="1180.76" width="13" height="13" fill="#454545"/><rect x="1193.76" width="13" height="13" fill="#3e3e3e"/><rect x="1206.76" width="13" height="13" fill="#373737"/><rect x="1219.76" width="13" height="13" fill="#2f2f2f"/><rect x="1232.76" width="13" height="13" fill="#272727"/><rect x="1245.76" width="13" height="13" fill="#1e1e1e"/><rect x="1258.76" width="13" height="13" fill="#171717"/></g>
<g transform="translate(0 138.81)"><rect x="660.76" width="13" height="13" fill="#2b2b2b"/><rect x="673.76" width="13" height="13" fill="#393939"/><rect x="686.76" width="13" height="13" fill="#494949"/><rect x="699.76" width="13" height="13" fill="#5a5a5a"/><rect x="712.76" width="13" height="13" fill="#6b6b6b"/><rect x="725.76" width="13" height="13" fill="#7a7a7a"/><rect x="738.76" width="13" height="13" fill="#878787"/><rect x="751.76" width="13" height="13" fill="#919191"/><rect x="764.76" width="13" height="13" fill="#979797"/><rect x="777.76" width="13" height="13" fill="#9a9a9a"/><rect x="790.76" width="13" height="13" fill="#9b9b9b"/><rect x="803.76" width="13" height="13" fill="#999999"/><rect x="816.76" width="13" height="13" fill="#969696"/><rect x="829.76" width="13" height="13" fill="#929292"/><rect x="842.76" width="13" height="13" fill="#909090"/><rect x="855.76" width="13" height="13" fill="#8e8e8e"/><rect x="868.76" width="13" height="13" fill="#8f8f8f"/><rect x="881.76" width="13" height="13" fill="#929292"/><rect x="894.76" width="13" height="13" fill="#999999"/><rect x="907.76" width="13" height="13" fill="#a2a2a2"/><rect x="920.76" width="13" height="13" fill="#adadad"/><rect x="933.76" width="13" height="13" fill="#b8b8b8"/><rect x="946.76" width="13" height="13" fill="#c3c3c3"/><rect x="959.76" width="13" height="13" fill="#cbcbcb"/><rect x="972.76" width="13" height="13" fill="#cfcfcf"/><rect x="985.76" width="13" height="13" fill="#d0d0d0"/><rect x="998.76" width="13" height="13" fill="#cdcdcd"/><rect x="1011.76" width="13" height="13" fill="#c8c8c8"/><rect x="1024.76" width="13" height="13" fill="#c0c0c0"/><rect x="1037.76" width="13" height="13" fill="#b8b8b8"/><rect x="1050.76" width="13" height="13" fill="#b0b0b0"/><rect x="1063.76" width="13" height="13" fill="#a7a7a7"/><rect x="1076.76" width="13" height="13" fill="#9e9e9e"/><rect x="1089.76" width="13" height="13" fill="#959595"/><rect x="1102.76" width="13" height="13" fill="#8b8b8b"/><rect x="1115.76" width="13" height="13" fill="#808080"/><rect x="1128.76" width="13" height="13" fill="#777777"/><rect x="1141.76" width="13" height="13" fill="#6d6d6d"/><rect x="1154.76" width="13" height="13" fill="#646464"/><rect x="1167.76" width="13" height="13" fill="#5c5c5c"/><rect x="1180.76" width="13" height="13" fill="#545454"/><rect x="1193.76" width="13" height="13" fill="#4b4b4b"/><rect x="1206.76" width="13" height="13" fill="#424242"/><rect x="1219.76" width="13" height="13" fill="#383838"/><rect x="1232.76" width="13" height="13" fill="#2e2e2e"/><rect x="1245.76" width="13" height="13" fill="#242424"/><rect x="1258.76" width="13" height="13" fill="#1b1b1b"/></g>
<g transform="translate(0 151.81)"><rect x="660.76" width="13" height="13" fill="#333333"/><rect x="673.76" width="13" height="13" fill="#454545"/><rect x="686.76" width="13" height="13" fill="#585858"/><rect x="699.76" width="13" height="13" fill="#6c6c6c"/><rect x="712.76" width="13" height="13" fill="#7f7f7f"/><rect x="725.76" width="13" height="13" fill="#909090"/><rect x="738.76" width="13" height="13" fill="#9e9e9e"/><rect x="751.76" width="13" height="13" fill="#a8a8a8"/><rect x="764.76" width="13" height="13" fill="#aeaeae"/><rect x="777.76" width="13" height="13" fill="#b1b1b1"/><rect x="790.76" width="13" height="13" fill="#b1b1b1"/><rect x="803.76" width="13" height="13" fill="#afafaf"/><rect x="816.76" width="13" height="13" fill="#acacac"/><rect x="829.76" width="13" height="13" fill="#aaaaaa"/><rect x="842.76" width="13" height="13" fill="#a9a9a9"/><rect x="855.76" width="13" height="13" fill="#aaaaaa"/><rect x="868.76" width="13" height="13" fill="#adadad"/><rect x="881.76" width="13" height="13" fill="#b3b3b3"/><rect x="894.76" width="13" height="13" fill="#bbbbbb"/><rect x="907.76" width="13" height="13" fill="#c6c6c6"/><rect x="920.76" width="13" height="13" fill="#d2d2d2"/><rect x="933.76" width="13" height="13" fill="#dedede"/><rect x="946.76" width="13" height="13" fill="#e7e7e7"/><rect x="959.76" width="13" height="13" fill="#eeeeee"/><rect x="972.76" width="13" height="13" fill="#f1f1f1"/><rect x="985.76" width="13" height="13" fill="#efefef"/><rect x="998.76" width="13" height="13" fill="#eaeaea"/><rect x="1011.76" width="13" height="13" fill="#e3e3e3"/><rect x="1024.76" width="13" height="13" fill="#dadada"/><rect x="1037.76" width="13" height="13" fill="#d2d2d2"/><rect x="1050.76" width="13" height="13" fill="#c9c9c9"/><rect x="1063.76" width="13" height="13" fill="#c0c0c0"/><rect x="1076.76" width="13" height="13" fill="#b7b7b7"/><rect x="1089.76" width="13" height="13" fill="#adadad"/><rect x="1102.76" width="13" height="13" fill="#a3a3a3"/><rect x="1115.76" width="13" height="13" fill="#989898"/><rect x="1128.76" width="13" height="13" fill="#8d8d8d"/><rect x="1141.76" width="13" height="13" fill="#828282"/><rect x="1154.76" width="13" height="13" fill="#777777"/><rect x="1167.76" width="13" height="13" fill="#6d6d6d"/><rect x="1180.76" width="13" height="13" fill="#636363"/><rect x="1193.76" width="13" height="13" fill="#585858"/><rect x="1206.76" width="13" height="13" fill="#4c4c4c"/><rect x="1219.76" width="13" height="13" fill="#404040"/><rect x="1232.76" width="13" height="13" fill="#343434"/><rect x="1245.76" width="13" height="13" fill="#282828"/><rect x="1258.76" width="13" height="13" fill="#1e1e1e"/></g>
<g transform="translate(0 164.81)"><rect x="660.76" width="13" height="13" fill="#393939"/><rect x="673.76" width="13" height="13" fill="#4c4c4c"/><rect x="686.76" width="13" height="13" fill="#616161"/><rect x="699.76" width="13" height="13" fill="#777777"/><rect x="712.76" width="13" height="13" fill="#8c8c8c"/><rect x="725.76" width="13" height="13" fill="#9f9f9f"/><rect x="738.76" width="13" height="13" fill="#aeaeae"/><rect x="751.76" width="13" height="13" fill="#b8b8b8"/><rect x="764.76" width="13" height="13" fill="#bfbfbf"/><rect x="777.76" width="13" height="13" fill="#c2c2c2"/><rect x="790.76" width="13" height="13" fill="#c2c2c2"/><rect x="803.76" width="13" height="13" fill="#c1c1c1"/><rect x="816.76" width="13" height="13" fill="#bfbfbf"/><rect x="829.76" width="13" height="13" fill="#bebebe"/><rect x="842.76" width="13" height="13" fill="#bebebe"/><rect x="855.76" width="13" height="13" fill="#c0c0c0"/><rect x="868.76" width="13" height="13" fill="#c4c4c4"/><rect x="881.76" width="13" height="13" fill="#cacaca"/><rect x="894.76" width="13" height="13" fill="#d2d2d2"/><rect x="907.76" width="13" height="13" fill="#dcdcdc"/><rect x="920.76" width="13" height="13" fill="#e7e7e7"/><rect x="933.76" width="13" height="13" fill="#f1f1f1"/><rect x="946.76" width="13" height="13" fill="#fafafa"/><rect x="959.76" width="13" height="13" fill="#ffffff"/><rect x="972.76" width="13" height="13" fill="#ffffff"/><rect x="985.76" width="13" height="13" fill="#ffffff"/><rect x="998.76" width="13" height="13" fill="#fafafa"/><rect x="1011.76" width="13" height="13" fill="#f3f3f3"/><rect x="1024.76" width="13" height="13" fill="#ededed"/><rect x="1037.76" width="13" height="13" fill="#e6e6e6"/><rect x="1050.76" width="13" height="13" fill="#dfdfdf"/><rect x="1063.76" width="13" height="13" fill="#d8d8d8"/><rect x="1076.76" width="13" height="13" fill="#d0d0d0"/><rect x="1089.76" width="13" height="13" fill="#c6c6c6"/><rect x="1102.76" width="13" height="13" fill="#bcbcbc"/><rect x="1115.76" width="13" height="13" fill="#b0b0b0"/><rect x="1128.76" width="13" height="13" fill="#a4a4a4"/><rect x="1141.76" width="13" height="13" fill="#979797"/><rect x="1154.76" width="13" height="13" fill="#8b8b8b"/><rect x="1167.76" width="13" height="13" fill="#7e7e7e"/><rect x="1180.76" width="13" height="13" fill="#717171"/><rect x="1193.76" width="13" height="13" fill="#646464"/><rect x="1206.76" width="13" height="13" fill="#565656"/><rect x="1219.76" width="13" height="13" fill="#484848"/><rect x="1232.76" width="13" height="13" fill="#3a3a3a"/><rect x="1245.76" width="13" height="13" fill="#2c2c2c"/><rect x="1258.76" width="13" height="13" fill="#212121"/></g>
<g transform="translate(0 177.81)"><rect x="660.76" width="13" height="13" fill="#3a3a3a"/><rect x="673.76" width="13" height="13" fill="#4e4e4e"/><rect x="686.76" width="13" height="13" fill="#646464"/><rect x="699.76" width="13" height="13" fill="#7a7a7a"/><rect x="712.76" width="13" height="13" fill="#8f8f8f"/><rect x="725.76" width="13" height="13" fill="#a1a1a1"/><rect x="738.76" width="13" height="13" fill="#b0b0b0"/><rect x="751.76" width="13" height="13" fill="#bbbbbb"/><rect x="764.76" width="13" height="13" fill="#c3c3c3"/><rect x="777.76" width="13" height="13" fill="#c7c7c7"/><rect x="790.76" width="13" height="13" fill="#c9c9c9"/><rect x="803.76" width="13" height="13" fill="#c9c9c9"/><rect x="816.76" width="13" height="13" fill="#c9c9c9"/><rect x="829.76" width="13" height="13" fill="#cacaca"/><rect x="842.76" width="13" height="13" fill="#cacaca"/><rect x="855.76" width="13" height="13" fill="#cbcbcb"/><rect x="868.76" width="13" height="13" fill="#cecece"/><rect x="881.76" width="13" height="13" fill="#d2d2d2"/><rect x="894.76" width="13" height="13" fill="#d8d8d8"/><rect x="907.76" width="13" height="13" fill="#e0e0e0"/><rect x="920.76" width="13" height="13" fill="#e9e9e9"/><rect x="933.76" width="13" height="13" fill="#f1f1f1"/><rect x="946.76" width="13" height="13" fill="#f9f9f9"/><rect x="959.76" width="13" height="13" fill="#fefefe"/><rect x="972.76" width="13" height="13" fill="#ffffff"/><rect x="985.76" width="13" height="13" fill="#ffffff"/><rect x="998.76" width="13" height="13" fill="#fefefe"/><rect x="1011.76" width="13" height="13" fill="#fcfcfc"/><rect x="1024.76" width="13" height="13" fill="#f9f9f9"/><rect x="1037.76" width="13" height="13" fill="#f6f6f6"/><rect x="1050.76" width="13" height="13" fill="#f3f3f3"/><rect x="1063.76" width="13" height="13" fill="#eeeeee"/><rect x="1076.76" width="13" height="13" fill="#e8e8e8"/><rect x="1089.76" width="13" height="13" fill="#dfdfdf"/><rect x="1102.76" width="13" height="13" fill="#d4d4d4"/><rect x="1115.76" width="13" height="13" fill="#c7c7c7"/><rect x="1128.76" width="13" height="13" fill="#bababa"/><rect x="1141.76" width="13" height="13" fill="#ababab"/><rect x="1154.76" width="13" height="13" fill="#9c9c9c"/><rect x="1167.76" width="13" height="13" fill="#8d8d8d"/><rect x="1180.76" width="13" height="13" fill="#7e7e7e"/><rect x="1193.76" width="13" height="13" fill="#6e6e6e"/><rect x="1206.76" width="13" height="13" fill="#5e5e5e"/><rect x="1219.76" width="13" height="13" fill="#4e4e4e"/><rect x="1232.76" width="13" height="13" fill="#3f3f3f"/><rect x="1245.76" width="13" height="13" fill="#303030"/><rect x="1258.76" width="13" height="13" fill="#232323"/></g>
<g transform="translate(0 190.81)"><rect x="660.76" width="13" height="13" fill="#373737"/><rect x="673.76" width="13" height="13" fill="#4a4a4a"/><rect x="686.76" width="13" height="13" fill="#5e5e5e"/><rect x="699.76" width="13" height="13" fill="#727272"/><rect x="712.76" width="13" height="13" fill="#868686"/><rect x="725.76" width="13" height="13" fill="#979797"/><rect x="738.76" width="13" height="13" fill="#a6a6a6"/><rect x="751.76" width="13" height="13" fill="#b1b1b1"/><rect x="764.76" width="13" height="13" fill="#b9b9b9"/><rect x="777.76" width="13" height="13" fill="#bfbfbf"/><rect x="790.76" width="13" height="13" fill="#c3c3c3"/><rect x="803.76" width="13" height="13" fill="#c6c6c6"/><rect x="816.76" width="13" height="13" fill="#c8c8c8"/><rect x="829.76" width="13" height="13" fill="#c9c9c9"/><rect x="842.76" width="13" height="13" fill="#cbcbcb"/><rect x="855.76" width="13" height="13" fill="#cccccc"/><rect x="868.76" width="13" height="13" fill="#cdcdcd"/><rect x="881.76" width="13" height="13" fill="#d0d0d0"/><rect x="894.76" width="13" height="13" fill="#d3d3d3"/><rect x="907.76" width="13" height="13" fill="#d8d8d8"/><rect x="920.76" width="13" height="13" fill="#dedede"/><rect x="933.76" width="13" height="13" fill="#e4e4e4"/><rect x="946.76" width="13" height="13" fill="#ebebeb"/><rect x="959.76" width="13" height="13" fill="#f0f0f0"/><rect x="972.76" width="13" height="13" fill="#f4f4f4"/><rect x="985.76" width="13" height="13" fill="#f8f8f8"/><rect x="998.76" width="13" height="13" fill="#fafafa"/><rect x="1011.76" width="13" height="13" fill="#fdfdfd"/><rect x="1024.76" width="13" height="13" fill="#ffffff"/><rect x="1037.76" width="13" height="13" fill="#ffffff"/><rect x="1050.76" width="13" height="13" fill="#ffffff"/><rect x="1063.76" width="13" height="13" fill="#fdfdfd"/><rect x="1076.76" width="13" height="13" fill="#f8f8f8"/><rect x="1089.76" width="13" height="13" fill="#efefef"/><rect x="1102.76" width="13" height="13" fill="#e4e4e4"/><rect x="1115.76" width="13" height="13" fill="#d7d7d7"/><rect x="1128.76" width="13" height="13" fill="#c7c7c7"/><rect x="1141.76" width="13" height="13" fill="#b7b7b7"/><rect x="1154.76" width="13" height="13" fill="#a7a7a7"/><rect x="1167.76" width="13" height="13" fill="#969696"/><rect x="1180.76" width="13" height="13" fill="#858585"/><rect x="1193.76" width="13" height="13" fill="#747474"/><rect x="1206.76" width="13" height="13" fill="#636363"/><rect x="1219.76" width="13" height="13" fill="#535353"/><rect x="1232.76" width="13" height="13" fill="#424242"/><rect x="1245.76" width="13" height="13" fill="#333333"/><rect x="1258.76" width="13" height="13" fill="#262626"/></g>
<g transform="translate(0 203.81)"><rect x="660.76" width="13" height="13" fill="#313131"/><rect x="673.76" width="13" height="13" fill="#424242"/><rect x="686.76" width="13" height="13" fill="#535353"/><rect x="699.76" width="13" height="13" fill="#656565"/><rect x="712.76" width="13" height="13" fill="#767676"/><rect x="725.76" width="13" height="13" fill="#868686"/><rect x="738.76" width="13" height="13" fill="#939393"/><rect x="751.76" width="13" height="13" fill="#9e9e9e"/><rect x="764.76" width="13" height="13" fill="#a6a6a6"/><rect x="777.76" width="13" height="13" fill="#adadad"/><rect x="790.76" width="13" height="13" fill="#b3b3b3"/><rect x="803.76" width="13" height="13" fill="#b7b7b7"/><rect x="816.76" width="13" height="13" fill="#bbbbbb"/><rect x="829.76" width="13" height="13" fill="#bfbfbf"/><rect x="842.76" width="13" height="13" fill="#c1c1c1"/><rect x="855.76" width="13" height="13" fill="#c3c3c3"/><rect x="868.76" width="13" height="13" fill="#c5c5c5"/><rect x="881.76" width="13" height="13" fill="#c6c6c6"/><rect x="894.76" width="13" height="13" fill="#c9c9c9"/><rect x="907.76" width="13" height="13" fill="#cbcbcb"/><rect x="920.76" width="13" height="13" fill="#cfcfcf"/><rect x="933.76" width="13" height="13" fill="#d4d4d4"/><rect x="946.76" width="13" height="13" fill="#d9d9d9"/><rect x="959.76" width="13" height="13" fill="#dedede"/><rect x="972.76" width="13" height="13" fill="#e3e3e3"/><rect x="985.76" width="13" height="13" fill="#e8e8e8"/><rect x="998.76" width="13" height="13" fill="#ededed"/><rect x="1011.76" width="13" height="13" fill="#f3f3f3"/><rect x="1024.76" width="13" height="13" fill="#f7f7f7"/><rect x="1037.76" width="13" height="13" fill="#fbfbfb"/><rect x="1050.76" width="13" height="13" fill="#fcfcfc"/><rect x="1063.76" width="13" height="13" fill="#fbfbfb"/><rect x="1076.76" width="13" height="13" fill="#f6f6f6"/><rect x="1089.76" width="13" height="13" fill="#eeeeee"/><rect x="1102.76" width="13" height="13" fill="#e2e2e2"/><rect x="1115.76" width="13" height="13" fill="#d5d5d5"/><rect x="1128.76" width="13" height="13" fill="#c5c5c5"/><rect x="1141.76" width="13" height="13" fill="#b5b5b5"/><rect x="1154.76" width="13" height="13" fill="#a4a4a4"/><rect x="1167.76" width="13" height="13" fill="#949494"/><rect x="1180.76" width="13" height="13" fill="#848484"/><rect x="1193.76" width="13" height="13" fill="#747474"/><rect x="1206.76" width="13" height="13" fill="#646464"/><rect x="1219.76" width="13" height="13" fill="#545454"/><rect x="1232.76" width="13" height="13" fill="#444444"/><rect x="1245.76" width="13" height="13" fill="#353535"/><rect x="1258.76" width="13" height="13" fill="#282828"/></g>
<g transform="translate(0 216.81)"><rect x="660.76" width="13" height="13" fill="#2b2b2b"/><rect x="673.76" width="13" height="13" fill="#393939"/><rect x="686.76" width="13" height="13" fill="#484848"/><rect x="699.76" width="13" height="13" fill="#575757"/><rect x="712.76" width="13" height="13" fill="#666666"/><rect x="725.76" width="13" height="13" fill="#737373"/><rect x="738.76" width="13" height="13" fill="#7e7e7e"/><rect x="751.76" width="13" height="13" fill="#888888"/><rect x="764.76" width="13" height="13" fill="#8f8f8f"/><rect x="777.76" width="13" height="13" fill="#969696"/><rect x="790.76" width="13" height="13" fill="#9c9c9c"/><rect x="803.76" width="13" height="13" fill="#a2a2a2"/><rect x="816.76" width="13" height="13" fill="#a7a7a7"/><rect x="829.76" width="13" height="13" fill="#acacac"/><rect x="842.76" width="13" height="13" fill="#b0b0b0"/><rect x="855.76" width="13" height="13" fill="#b4b4b4"/><rect x="868.76" width="13" height="13" fill="#b7b7b7"/><rect x="881.76" width="13" height="13" fill="#bababa"/><rect x="894.76" width="13" height="13" fill="#bcbcbc"/><rect x="907.76" width="13" height="13" fill="#bfbfbf"/><rect x="920.76" width="13" height="13" fill="#c1c1c1"/><rect x="933.76" width="13" height="13" fill="#c4c4c4"/><rect x="946.76" width="13" height="13" fill="#c6c6c6"/><rect x="959.76" width="13" height="13" fill="#c9c9c9"/><rect x="972.76" width="13" height="13" fill="#cdcdcd"/><rect x="985.76" width="13" height="13" fill="#d1d1d1"/><rect x="998.76" width="13" height="13" fill="#d5d5d5"/><rect x="1011.76" width="13" height="13" fill="#dadada"/><rect x="1024.76" width="13" height="13" fill="#dfdfdf"/><rect x="1037.76" width="13" height="13" fill="#e3e3e3"/><rect x="1050.76" width="13" height="13" fill="#e5e5e5"/><rect x="1063.76" width="13" height="13" fill="#e4e4e4"/><rect x="1076.76" width="13" height="13" fill="#dfdfdf"/><rect x="1089.76" width="13" height="13" fill="#d7d7d7"/><rect x="1102.76" width="13" height="13" fill="#cdcdcd"/><rect x="1115.76" width="13" height="13" fill="#c0c0c0"/><rect x="1128.76" width="13" height="13" fill="#b2b2b2"/><rect x="1141.76" width="13" height="13" fill="#a4a4a4"/><rect x="1154.76" width="13" height="13" fill="#969696"/><rect x="1167.76" width="13" height="13" fill="#888888"/><rect x="1180.76" width="13" height="13" fill="#7a7a7a"/><rect x="1193.76" width="13" height="13" fill="#6d6d6d"/><rect x="1206.76" width="13" height="13" fill="#606060"/><rect x="1219.76" width="13" height="13" fill="#525252"/><rect x="1232.76" width="13" height="13" fill="#444444"/><rect x="1245.76" width="13" height="13" fill="#363636"/><rect x="1258.76" width="13" height="13" fill="#292929"/></g>
<g transform="translate(0 229.81)"><rect x="660.76" width="13" height="13" fill="#272727"/><rect x="673.76" width="13" height="13" fill="#333333"/><rect x="686.76" width="13" height="13" fill="#404040"/><rect x="699.76" width="13" height="13" fill="#4d4d4d"/><rect x="712.76" width="13" height="13" fill="#595959"/><rect x="725.76" width="13" height="13" fill="#646464"/><rect x="738.76" width="13" height="13" fill="#6d6d6d"/><rect x="751.76" width="13" height="13" fill="#747474"/><rect x="764.76" width="13" height="13" fill="#7a7a7a"/><rect x="777.76" width="13" height="13" fill="#7f7f7f"/><rect x="790.76" width="13" height="13" fill="#848484"/><rect x="803.76" width="13" height="13" fill="#8a8a8a"/><rect x="816.76" width="13" height="13" fill="#8f8f8f"/><rect x="829.76" width="13" height="13" fill="#959595"/><rect x="842.76" width="13" height="13" fill="#9b9b9b"/><rect x="855.76" width="13" height="13" fill="#a1a1a1"/><rect x="868.76" width="13" height="13" fill="#a6a6a6"/><rect x="881.76" width="13" height="13" fill="#aaaaaa"/><rect x="894.76" width="13" height="13" fill="#adadad"/><rect x="907.76" width="13" height="13" fill="#afafaf"/><rect x="920.76" width="13" height="13" fill="#b1b1b1"/><rect x="933.76" width="13" height="13" fill="#b2b2b2"/><rect x="946.76" width="13" height="13" fill="#b2b2b2"/><rect x="959.76" width="13" height="13" fill="#b2b2b2"/><rect x="972.76" width="13" height="13" fill="#b2b2b2"/><rect x="985.76" width="13" height="13" fill="#b3b3b3"/><rect x="998.76" width="13" height="13" fill="#b5b5b5"/><rect x="1011.76" width="13" height="13" fill="#b7b7b7"/><rect x="1024.76" width="13" height="13" fill="#bbbbbb"/><rect x="1037.76" width="13" height="13" fill="#bdbdbd"/><rect x="1050.76" width="13" height="13" fill="#bfbfbf"/><rect x="1063.76" width="13" height="13" fill="#bebebe"/><rect x="1076.76" width="13" height="13" fill="#bababa"/><rect x="1089.76" width="13" height="13" fill="#b4b4b4"/><rect x="1102.76" width="13" height="13" fill="#ababab"/><rect x="1115.76" width="13" height="13" fill="#a1a1a1"/><rect x="1128.76" width="13" height="13" fill="#969696"/><rect x="1141.76" width="13" height="13" fill="#8c8c8c"/><rect x="1154.76" width="13" height="13" fill="#818181"/><rect x="1167.76" width="13" height="13" fill="#787878"/><rect x="1180.76" width="13" height="13" fill="#6e6e6e"/><rect x="1193.76" width="13" height="13" fill="#646464"/><rect x="1206.76" width="13" height="13" fill="#5a5a5a"/><rect x="1219.76" width="13" height="13" fill="#4e4e4e"/><rect x="1232.76" width="13" height="13" fill="#424242"/><rect x="1245.76" width="13" height="13" fill="#363636"/><rect x="1258.76" width="13" height="13" fill="#2a2a2a"/></g>
<g transform="translate(0 242.81)"><rect x="660.76" width="13" height="13" fill="#252525"/><rect x="673.76" width="13" height="13" fill="#303030"/><rect x="686.76" width="13" height="13" fill="#3c3c3c"/><rect x="699.76" width="13" height="13" fill="#484848"/><rect x="712.76" width="13" height="13" fill="#525252"/><rect x="725.76" width="13" height="13" fill="#5a5a5a"/><rect x="738.76" width="13" height="13" fill="#616161"/><rect x="751.76" width="13" height="13" fill="#666666"/><rect x="764.76" width="13" height="13" fill="#6a6a6a"/><rect x="777.76" width="13" height="13" fill="#6d6d6d"/><rect x="790.76" width="13" height="13" fill="#717171"/><rect x="803.76" width="13" height="13" fill="#757575"/><rect x="816.76" width="13" height="13" fill="#7a7a7a"/><rect x="829.76" width="13" height="13" fill="#7f7f7f"/><rect x="842.76" width="13" height="13" fill="#868686"/><rect x="855.76" width="13" height="13" fill="#8c8c8c"/><rect x="868.76" width="13" height="13" fill="#929292"/><rect x="881.76" width="13" height="13" fill="#969696"/><rect x="894.76" width="13" height="13" fill="#9a9a9a"/><rect x="907.76" width="13" height="13" fill="#9c9c9c"/><rect x="920.76" width="13" height="13" fill="#9d9d9d"/><rect x="933.76" width="13" height="13" fill="#9c9c9c"/><rect x="946.76" width="13" height="13" fill="#9a9a9a"/><rect x="959.76" width="13" height="13" fill="#979797"/><rect x="972.76" width="13" height="13" fill="#949494"/><rect x="985.76" width="13" height="13" fill="#929292"/><rect x="998.76" width="13" height="13" fill="#929292"/><rect x="1011.76" width="13" height="13" fill="#939393"/><rect x="1024.76" width="13" height="13" fill="#949494"/><rect x="1037.76" width="13" height="13" fill="#969696"/><rect x="1050.76" width="13" height="13" fill="#989898"/><rect x="1063.76" width="13" height="13" fill="#989898"/><rect x="1076.76" width="13" height="13" fill="#959595"/><rect x="1089.76" width="13" height="13" fill="#919191"/><rect x="1102.76" width="13" height="13" fill="#8a8a8a"/><rect x="1115.76" width="13" height="13" fill="#838383"/><rect x="1128.76" width="13" height="13" fill="#7c7c7c"/><rect x="1141.76" width="13" height="13" fill="#757575"/><rect x="1154.76" width="13" height="13" fill="#6e6e6e"/><rect x="1167.76" width="13" height="13" fill="#686868"/><rect x="1180.76" width="13" height="13" fill="#626262"/><rect x="1193.76" width="13" height="13" fill="#5c5c5c"/><rect x="1206.76" width="13" height="13" fill="#535353"/><rect x="1219.76" width="13" height="13" fill="#4a4a4a"/><rect x="1232.76" width="13" height="13" fill="#3f3f3f"/><rect x="1245.76" width="13" height="13" fill="#343434"/><rect x="1258.76" width="13" height="13" fill="#282828"/></g>
<g transform="translate(0 255.81)"><rect x="660.76" width="13" height="13" fill="#242424"/><rect x="673.76" width="13" height="13" fill="#2f2f2f"/><rect x="686.76" width="13" height="13" fill="#3a3a3a"/><rect x="699.76" width="13" height="13" fill="#454545"/><rect x="712.76" width="13" height="13" fill="#4e4e4e"/><rect x="725.76" width="13" height="13" fill="#555555"/><rect x="738.76" width="13" height="13" fill="#5a5a5a"/><rect x="751.76" width="13" height="13" fill="#5e5e5e"/><rect x="764.76" width="13" height="13" fill="#606060"/><rect x="777.76" width="13" height="13" fill="#616161"/><rect x="790.76" width="13" height="13" fill="#636363"/><rect x="803.76" width="13" height="13" fill="#666666"/><rect x="816.76" width="13" height="13" fill="#6a6a6a"/><rect x="829.76" width="13" height="13" fill="#6f6f6f"/><rect x="842.76" width="13" height="13" fill="#747474"/><rect x="855.76" width="13" height="13" fill="#7a7a7a"/><rect x="868.76" width="13" height="13" fill="#7f7f7f"/><rect x="881.76" width="13" height="13" fill="#838383"/><rect x="894.76" width="13" height="13" fill="#858585"/><rect x="907.76" width="13" height="13" fill="#868686"/><rect x="920.76" width="13" height="13" fill="#858585"/><rect x="933.76" width="13" height="13" fill="#838383"/><rect x="946.76" width="13" height="13" fill="#808080"/><rect x="959.76" width="13" height="13" fill="#7c7c7c"/><rect x="972.76" width="13" height="13" fill="#787878"/><rect x="985.76" width="13" height="13" fill="#757575"/><rect x="998.76" width="13" height="13" fill="#747474"/><rect x="1011.76" width="13" height="13" fill="#747474"/><rect x="1024.76" width="13" height="13" fill="#757575"/><rect x="1037.76" width="13" height="13" fill="#777777"/><rect x="1050.76" width="13" height="13" fill="#797979"/><rect x="1063.76" width="13" height="13" fill="#7a7a7a"/><rect x="1076.76" width="13" height="13" fill="#797979"/><rect x="1089.76" width="13" height="13" fill="#767676"/><rect x="1102.76" width="13" height="13" fill="#727272"/><rect x="1115.76" width="13" height="13" fill="#6d6d6d"/><rect x="1128.76" width="13" height="13" fill="#686868"/><rect x="1141.76" width="13" height="13" fill="#636363"/><rect x="1154.76" width="13" height="13" fill="#606060"/><rect x="1167.76" width="13" height="13" fill="#5c5c5c"/><rect x="1180.76" width="13" height="13" fill="#585858"/><rect x="1193.76" width="13" height="13" fill="#525252"/><rect x="1206.76" width="13" height="13" fill="#4c4c4c"/><rect x="1219.76" width="13" height="13" fill="#434343"/><rect x="1232.76" width="13" height="13" fill="#393939"/><rect x="1245.76" width="13" height="13" fill="#2f2f2f"/><rect x="1258.76" width="13" height="13" fill="#242424"/></g>
<g transform="translate(0 268.81)"><rect x="660.76" width="13" height="13" fill="#212121"/><rect x="673.76" width="13" height="13" fill="#2c2c2c"/><rect x="686.76" width="13" height="13" fill="#373737"/><rect x="699.76" width="13" height="13" fill="#414141"/><rect x="712.76" width="13" height="13" fill="#4a4a4a"/><rect x="725.76" width="13" height="13" fill="#525252"/><rect x="738.76" width="13" height="13" fill="#565656"/><rect x="751.76" width="13" height="13" fill="#595959"/><rect x="764.76" width="13" height="13" fill="#5b5b5b"/><rect x="777.76" width="13" height="13" fill="#5b5b5b"/><rect x="790.76" width="13" height="13" fill="#5c5c5c"/><rect x="803.76" width="13" height="13" fill="#5e5e5e"/><rect x="816.76" width="13" height="13" fill="#616161"/><rect x="829.76" width="13" height="13" fill="#656565"/><rect x="842.76" width="13" height="13" fill="#696969"/><rect x="855.76" width="13" height="13" fill="#6d6d6d"/><rect x="868.76" width="13" height="13" fill="#707070"/><rect x="881.76" width="13" height="13" fill="#727272"/><rect x="894.76" width="13" height="13" fill="#727272"/><rect x="907.76" width="13" height="13" fill="#717171"/><rect x="920.76" width="13" height="13" fill="#6f6f6f"/><rect x="933.76" width="13" height="13" fill="#6c6c6c"/><rect x="946.76" width="13" height="13" fill="#686868"/><rect x="959.76" width="13" height="13" fill="#646464"/><rect x="972.76" width="13" height="13" fill="#606060"/><rect x="985.76" width="13" height="13" fill="#5e5e5e"/><rect x="998.76" width="13" height="13" fill="#5d5d5d"/><rect x="1011.76" width="13" height="13" fill="#5e5e5e"/><rect x="1024.76" width="13" height="13" fill="#606060"/><rect x="1037.76" width="13" height="13" fill="#636363"/><rect x="1050.76" width="13" height="13" fill="#656565"/><rect x="1063.76" width="13" height="13" fill="#666666"/><rect x="1076.76" width="13" height="13" fill="#666666"/><rect x="1089.76" width="13" height="13" fill="#646464"/><rect x="1102.76" width="13" height="13" fill="#616161"/><rect x="1115.76" width="13" height="13" fill="#5e5e5e"/><rect x="1128.76" width="13" height="13" fill="#5a5a5a"/><rect x="1141.76" width="13" height="13" fill="#565656"/><rect x="1154.76" width="13" height="13" fill="#535353"/><rect x="1167.76" width="13" height="13" fill="#505050"/><rect x="1180.76" width="13" height="13" fill="#4d4d4d"/><rect x="1193.76" width="13" height="13" fill="#484848"/><rect x="1206.76" width="13" height="13" fill="#424242"/><rect x="1219.76" width="13" height="13" fill="#3a3a3a"/><rect x="1232.76" width="13" height="13" fill="#313131"/><rect x="1245.76" width="13" height="13" fill="#282828"/><rect x="1258.76" width="13" height="13" fill="#1f1f1f"/></g>
<g transform="translate(0 281.81)"><rect x="660.76" width="13" height="13" fill="#1d1d1d"/><rect x="673.76" width="13" height="13" fill="#272727"/><rect x="686.76" width="13" height="13" fill="#313131"/><rect x="699.76" width="13" height="13" fill="#3c3c3c"/><rect x="712.76" width="13" height="13" fill="#454545"/><rect x="725.76" width="13" height="13" fill="#4c4c4c"/><rect x="738.76" width="13" height="13" fill="#515151"/><rect x="751.76" width="13" height="13" fill="#545454"/><rect x="764.76" width="13" height="13" fill="#565656"/><rect x="777.76" width="13" height="13" fill="#575757"/><rect x="790.76" width="13" height="13" fill="#575757"/><rect x="803.76" width="13" height="13" fill="#585858"/><rect x="816.76" width="13" height="13" fill="#5a5a5a"/><rect x="829.76" width="13" height="13" fill="#5d5d5d"/><rect x="842.76" width="13" height="13" fill="#5f5f5f"/><rect x="855.76" width="13" height="13" fill="#626262"/><rect x="868.76" width="13" height="13" fill="#636363"/><rect x="881.76" width="13" height="13" fill="#636363"/><rect x="894.76" width="13" height="13" fill="#626262"/><rect x="907.76" width="13" height="13" fill="#606060"/><rect x="920.76" width="13" height="13" fill="#5c5c5c"/><rect x="933.76" width="13" height="13" fill="#585858"/><rect x="946.76" width="13" height="13" fill="#545454"/><rect x="959.76" width="13" height="13" fill="#515151"/><rect x="972.76" width="13" height="13" fill="#4e4e4e"/><rect x="985.76" width="13" height="13" fill="#4d4d4d"/><rect x="998.76" width="13" height="13" fill="#4e4e4e"/><rect x="1011.76" width="13" height="13" fill="#4f4f4f"/><rect x="1024.76" width="13" height="13" fill="#525252"/><rect x="1037.76" width="13" height="13" fill="#565656"/><rect x="1050.76" width="13" height="13" fill="#585858"/><rect x="1063.76" width="13" height="13" fill="#5a5a5a"/><rect x="1076.76" width="13" height="13" fill="#5a5a5a"/><rect x="1089.76" width="13" height="13" fill="#595959"/><rect x="1102.76" width="13" height="13" fill="#565656"/><rect x="1115.76" width="13" height="13" fill="#525252"/><rect x="1128.76" width="13" height="13" fill="#4f4f4f"/><rect x="1141.76" width="13" height="13" fill="#4c4c4c"/><rect x="1154.76" width="13" height="13" fill="#494949"/><rect x="1167.76" width="13" height="13" fill="#464646"/><rect x="1180.76" width="13" height="13" fill="#434343"/><rect x="1193.76" width="13" height="13" fill="#3e3e3e"/><rect x="1206.76" width="13" height="13" fill="#383838"/><rect x="1219.76" width="13" height="13" fill="#313131"/><rect x="1232.76" width="13" height="13" fill="#292929"/><rect x="1245.76" width="13" height="13" fill="#212121"/><rect x="1258.76" width="13" height="13" fill="#191919"/></g>
<g transform="translate(0 294.81)"><rect x="660.76" width="13" height="13" fill="#181818"/><rect x="673.76" width="13" height="13" fill="#212121"/><rect x="686.76" width="13" height="13" fill="#2a2a2a"/><rect x="699.76" width="13" height="13" fill="#343434"/><rect x="712.76" width="13" height="13" fill="#3c3c3c"/><rect x="725.76" width="13" height="13" fill="#434343"/><rect x="738.76" width="13" height="13" fill="#494949"/><rect x="751.76" width="13" height="13" fill="#4c4c4c"/><rect x="764.76" width="13" height="13" fill="#4e4e4e"/><rect x="777.76" width="13" height="13" fill="#4f4f4f"/><rect x="790.76" width="13" height="13" fill="#4f4f4f"/><rect x="803.76" width="13" height="13" fill="#505050"/><rect x="816.76" width="13" height="13" fill="#525252"/><rect x="829.76" width="13" height="13" fill="#535353"/><rect x="842.76" width="13" height="13" fill="#555555"/><rect x="855.76" width="13" height="13" fill="#565656"/><rect x="868.76" width="13" height="13" fill="#575757"/><rect x="881.76" width="13" height="13" fill="#565656"/><rect x="894.76" width="13" height="13" fill="#545454"/><rect x="907.76" width="13" height="13" fill="#515151"/><rect x="920.76" width="13" height="13" fill="#4d4d4d"/><rect x="933.76" width="13" height="13" fill="#494949"/><rect x="946.76" width="13" height="13" fill="#464646"/><rect x="959.76" width="13" height="13" fill="#434343"/><rect x="972.76" width="13" height="13" fill="#414141"/><rect x="985.76" width="13" height="13" fill="#414141"/><rect x="998.76" width="13" height="13" fill="#434343"/><rect x="1011.76" width="13" height="13" fill="#454545"/><rect x="1024.76" width="13" height="13" fill="#494949"/><rect x="1037.76" width="13" height="13" fill="#4c4c4c"/><rect x="1050.76" width="13" height="13" fill="#4f4f4f"/><rect x="1063.76" width="13" height="13" fill="#515151"/><rect x="1076.76" width="13" height="13" fill="#515151"/><rect x="1089.76" width="13" height="13" fill="#4f4f4f"/><rect x="1102.76" width="13" height="13" fill="#4c4c4c"/><rect x="1115.76" width="13" height="13" fill="#494949"/><rect x="1128.76" width="13" height="13" fill="#454545"/><rect x="1141.76" width="13" height="13" fill="#424242"/><rect x="1154.76" width="13" height="13" fill="#3f3f3f"/><rect x="1167.76" width="13" height="13" fill="#3d3d3d"/><rect x="1180.76" width="13" height="13" fill="#3a3a3a"/><rect x="1193.76" width="13" height="13" fill="#363636"/><rect x="1206.76" width="13" height="13" fill="#303030"/><rect x="1219.76" width="13" height="13" fill="#2a2a2a"/><rect x="1232.76" width="13" height="13" fill="#232323"/><rect x="1245.76" width="13" height="13" fill="#1b1b1b"/><rect x="1258.76" width="13" height="13" fill="#141414"/></g>
<g transform="translate(0 307.81)"><rect x="660.76" width="13" height="13" fill="#141414"/><rect x="673.76" width="13" height="13" fill="#1b1b1b"/><rect x="686.76" width="13" height="13" fill="#232323"/><rect x="699.76" width="13" height="13" fill="#2b2b2b"/><rect x="712.76" width="13" height="13" fill="#323232"/><rect x="725.76" width="13" height="13" fill="#383838"/><rect x="738.76" width="13" height="13" fill="#3d3d3d"/><rect x="751.76" width="13" height="13" fill="#404040"/><rect x="764.76" width="13" height="13" fill="#424242"/><rect x="777.76" width="13" height="13" fill="#434343"/><rect x="790.76" width="13" height="13" fill="#434343"/><rect x="803.76" width="13" height="13" fill="#444444"/><rect x="816.76" width="13" height="13" fill="#464646"/><rect x="829.76" width="13" height="13" fill="#484848"/><rect x="842.76" width="13" height="13" fill="#4a4a4a"/><rect x="855.76" width="13" height="13" fill="#4b4b4b"/><rect x="868.76" width="13" height="13" fill="#4b4b4b"/><rect x="881.76" width="13" height="13" fill="#4b4b4b"/><rect x="894.76" width="13" height="13" fill="#494949"/><rect x="907.76" width="13" height="13" fill="#464646"/><rect x="920.76" width="13" height="13" fill="#434343"/><rect x="933.76" width="13" height="13" fill="#404040"/><rect x="946.76" width="13" height="13" fill="#3d3d3d"/><rect x="959.76" width="13" height="13" fill="#3b3b3b"/><rect x="972.76" width="13" height="13" fill="#3a3a3a"/><rect x="985.76" width="13" height="13" fill="#3a3a3a"/><rect x="998.76" width="13" height="13" fill="#3c3c3c"/><rect x="1011.76" width="13" height="13" fill="#3e3e3e"/><rect x="1024.76" width="13" height="13" fill="#414141"/><rect x="1037.76" width="13" height="13" fill="#454545"/><rect x="1050.76" width="13" height="13" fill="#474747"/><rect x="1063.76" width="13" height="13" fill="#494949"/><rect x="1076.76" width="13" height="13" fill="#484848"/><rect x="1089.76" width="13" height="13" fill="#464646"/><rect x="1102.76" width="13" height="13" fill="#434343"/><rect x="1115.76" width="13" height="13" fill="#3f3f3f"/><rect x="1128.76" width="13" height="13" fill="#3c3c3c"/><rect x="1141.76" width="13" height="13" fill="#393939"/><rect x="1154.76" width="13" height="13" fill="#363636"/><rect x="1167.76" width="13" height="13" fill="#343434"/><rect x="1180.76" width="13" height="13" fill="#323232"/><rect x="1193.76" width="13" height="13" fill="#2e2e2e"/><rect x="1206.76" width="13" height="13" fill="#2a2a2a"/><rect x="1219.76" width="13" height="13" fill="#252525"/><rect x="1232.76" width="13" height="13" fill="#1e1e1e"/><rect x="1245.76" width="13" height="13" fill="#181818"/><rect x="1258.76" width="13" height="13" fill="#111111"/></g>
<g transform="translate(0 320.81)"><rect x="660.76" width="13" height="13" fill="#111111"/><rect x="673.76" width="13" height="13" fill="#171717"/><rect x="686.76" width="13" height="13" fill="#1d1d1d"/><rect x="699.76" width="13" height="13" fill="#232323"/><rect x="712.76" width="13" height="13" fill="#282828"/><rect x="725.76" width="13" height="13" fill="#2d2d2d"/><rect x="738.76" width="13" height="13" fill="#303030"/><rect x="751.76" width="13" height="13" fill="#333333"/><rect x="764.76" width="13" height="13" fill="#343434"/><rect x="777.76" width="13" height="13" fill="#353535"/><rect x="790.76" width="13" height="13" fill="#363636"/><rect x="803.76" width="13" height="13" fill="#383838"/><rect x="816.76" width="13" height="13" fill="#3a3a3a"/><rect x="829.76" width="13" height="13" fill="#3d3d3d"/><rect x="842.76" width="13" height="13" fill="#404040"/><rect x="855.76" width="13" height="13" fill="#424242"/><rect x="868.76" width="13" height="13" fill="#434343"/><rect x="881.76" width="13" height="13" fill="#434343"/><rect x="894.76" width="13" height="13" fill="#434343"/><rect x="907.76" width="13" height="13" fill="#414141"/><rect x="920.76" width="13" height="13" fill="#3f3f3f"/><rect x="933.76" width="13" height="13" fill="#3d3d3d"/><rect x="946.76" width="13" height="13" fill="#3b3b3b"/><rect x="959.76" width="13" height="13" fill="#393939"/><rect x="972.76" width="13" height="13" fill="#383838"/><rect x="985.76" width="13" height="13" fill="#383838"/><rect x="998.76" width="13" height="13" fill="#393939"/><rect x="1011.76" width="13" height="13" fill="#3b3b3b"/><rect x="1024.76" width="13" height="13" fill="#3d3d3d"/><rect x="1037.76" width="13" height="13" fill="#3f3f3f"/><rect x="1050.76" width="13" height="13" fill="#414141"/><rect x="1063.76" width="13" height="13" fill="#414141"/><rect x="1076.76" width="13" height="13" fill="#404040"/><rect x="1089.76" width="13" height="13" fill="#3d3d3d"/><rect x="1102.76" width="13" height="13" fill="#3a3a3a"/><rect x="1115.76" width="13" height="13" fill="#363636"/><rect x="1128.76" width="13" height="13" fill="#323232"/><rect x="1141.76" width="13" height="13" fill="#303030"/><rect x="1154.76" width="13" height="13" fill="#2e2e2e"/><rect x="1167.76" width="13" height="13" fill="#2c2c2c"/><rect x="1180.76" width="13" height="13" fill="#2b2b2b"/><rect x="1193.76" width="13" height="13" fill="#282828"/><rect x="1206.76" width="13" height="13" fill="#252525"/><rect x="1219.76" width="13" height="13" fill="#202020"/><rect x="1232.76" width="13" height="13" fill="#1b1b1b"/><rect x="1245.76" width="13" height="13" fill="#151515"/><rect x="1258.76" width="13" height="13" fill="#101010"/></g>
<g transform="translate(0 333.81)"><rect x="660.76" width="13" height="13" fill="#0f0f0f"/><rect x="673.76" width="13" height="13" fill="#141414"/><rect x="686.76" width="13" height="13" fill="#191919"/><rect x="699.76" width="13" height="13" fill="#1d1d1d"/><rect x="712.76" width="13" height="13" fill="#212121"/><rect x="725.76" width="13" height="13" fill="#242424"/><rect x="738.76" width="13" height="13" fill="#262626"/><rect x="751.76" width="13" height="13" fill="#282828"/><rect x="764.76" width="13" height="13" fill="#292929"/><rect x="777.76" width="13" height="13" fill="#2a2a2a"/><rect x="790.76" width="13" height="13" fill="#2c2c2c"/><rect x="803.76" width="13" height="13" fill="#2f2f2f"/><rect x="816.76" width="13" height="13" fill="#323232"/><rect x="829.76" width="13" height="13" fill="#363636"/><rect x="842.76" width="13" height="13" fill="#3a3a3a"/><rect x="855.76" width="13" height="13" fill="#3d3d3d"/><rect x="868.76" width="13" height="13" fill="#3f3f3f"/><rect x="881.76" width="13" height="13" fill="#414141"/><rect x="894.76" width="13" height="13" fill="#414141"/><rect x="907.76" width="13" height="13" fill="#414141"/><rect x="920.76" width="13" height="13" fill="#404040"/><rect x="933.76" width="13" height="13" fill="#3e3e3e"/><rect x="946.76" width="13" height="13" fill="#3d3d3d"/><rect x="959.76" width="13" height="13" fill="#3c3c3c"/><rect x="972.76" width="13" height="13" fill="#3b3b3b"/><rect x="985.76" width="13" height="13" fill="#3b3b3b"/><rect x="998.76" width="13" height="13" fill="#3b3b3b"/><rect x="1011.76" width="13" height="13" fill="#3c3c3c"/><rect x="1024.76" width="13" height="13" fill="#3d3d3d"/><rect x="1037.76" width="13" height="13" fill="#3e3e3e"/><rect x="1050.76" width="13" height="13" fill="#3e3e3e"/><rect x="1063.76" width="13" height="13" fill="#3c3c3c"/><rect x="1076.76" width="13" height="13" fill="#3a3a3a"/><rect x="1089.76" width="13" height="13" fill="#363636"/><rect x="1102.76" width="13" height="13" fill="#323232"/><rect x="1115.76" width="13" height="13" fill="#2e2e2e"/><rect x="1128.76" width="13" height="13" fill="#2b2b2b"/><rect x="1141.76" width="13" height="13" fill="#282828"/><rect x="1154.76" width="13" height="13" fill="#272727"/><rect x="1167.76" width="13" height="13" fill="#262626"/><rect x="1180.76" width="13" height="13" fill="#252525"/><rect x="1193.76" width="13" height="13" fill="#232323"/><rect x="1206.76" width="13" height="13" fill="#212121"/><rect x="1219.76" width="13" height="13" fill="#1d1d1d"/><rect x="1232.76" width="13" height="13" fill="#181818"/><rect x="1245.76" width="13" height="13" fill="#131313"/><rect x="1258.76" width="13" height="13" fill="#0e0e0e"/></g>
<g transform="translate(0 346.81)"><rect x="660.76" width="13" height="13" fill="#0e0e0e"/><rect x="673.76" width="13" height="13" fill="#121212"/><rect x="686.76" width="13" height="13" fill="#161616"/><rect x="699.76" width="13" height="13" fill="#191919"/><rect x="712.76" width="13" height="13" fill="#1c1c1c"/><rect x="725.76" width="13" height="13" fill="#1e1e1e"/><rect x="738.76" width="13" height="13" fill="#202020"/><rect x="751.76" width="13" height="13" fill="#212121"/><rect x="764.76" width="13" height="13" fill="#232323"/><rect x="777.76" width="13" height="13" fill="#252525"/><rect x="790.76" width="13" height="13" fill="#272727"/><rect x="803.76" width="13" height="13" fill="#2a2a2a"/><rect x="816.76" width="13" height="13" fill="#2e2e2e"/><rect x="829.76" width="13" height="13" fill="#323232"/><rect x="842.76" width="13" height="13" fill="#363636"/><rect x="855.76" width="13" height="13" fill="#3a3a3a"/><rect x="868.76" width="13" height="13" fill="#3d3d3d"/><rect x="881.76" width="13" height="13" fill="#3f3f3f"/><rect x="894.76" width="13" height="13" fill="#404040"/><rect x="907.76" width="13" height="13" fill="#404040"/><rect x="920.76" width="13" height="13" fill="#404040"/><rect x="933.76" width="13" height="13" fill="#3f3f3f"/><rect x="946.76" width="13" height="13" fill="#3e3e3e"/><rect x="959.76" width="13" height="13" fill="#3e3e3e"/><rect x="972.76" width="13" height="13" fill="#3e3e3e"/><rect x="985.76" width="13" height="13" fill="#3e3e3e"/><rect x="998.76" width="13" height="13" fill="#3f3f3f"/><rect x="1011.76" width="13" height="13" fill="#3f3f3f"/><rect x="1024.76" width="13" height="13" fill="#3f3f3f"/><rect x="1037.76" width="13" height="13" fill="#3f3f3f"/><rect x="1050.76" width="13" height="13" fill="#3e3e3e"/><rect x="1063.76" width="13" height="13" fill="#3b3b3b"/><rect x="1076.76" width="13" height="13" fill="#373737"/><rect x="1089.76" width="13" height="13" fill="#333333"/><rect x="1102.76" width="13" height="13" fill="#2e2e2e"/><rect x="1115.76" width="13" height="13" fill="#292929"/><rect x="1128.76" width="13" height="13" fill="#262626"/><rect x="1141.76" width="13" height="13" fill="#232323"/><rect x="1154.76" width="13" height="13" fill="#222222"/><rect x="1167.76" width="13" height="13" fill="#212121"/><rect x="1180.76" width="13" height="13" fill="#212121"/><rect x="1193.76" width="13" height="13" fill="#202020"/><rect x="1206.76" width="13" height="13" fill="#1e1e1e"/><rect x="1219.76" width="13" height="13" fill="#1b1b1b"/><rect x="1232.76" width="13" height="13" fill="#171717"/><rect x="1245.76" width="13" height="13" fill="#121212"/><rect x="1258.76" width="13" height="13" fill="#0e0e0e"/></g>
<g transform="translate(0 359.81)"><rect x="660.76" width="13" height="13" fill="#0c0c0c"/><rect x="673.76" width="13" height="13" fill="#0f0f0f"/><rect x="686.76" width="13" height="13" fill="#131313"/><rect x="699.76" width="13" height="13" fill="#161616"/><rect x="712.76" width="13" height="13" fill="#191919"/><rect x="725.76" width="13" height="13" fill="#1b1b1b"/><rect x="738.76" width="13" height="13" fill="#1d1d1d"/><rect x="751.76" width="13" height="13" fill="#1e1e1e"/><rect x="764.76" width="13" height="13" fill="#202020"/><rect x="777.76" width="13" height="13" fill="#222222"/><rect x="790.76" width="13" height="13" fill="#242424"/><rect x="803.76" width="13" height="13" fill="#282828"/><rect x="816.76" width="13" height="13" fill="#2b2b2b"/><rect x="829.76" width="13" height="13" fill="#2f2f2f"/><rect x="842.76" width="13" height="13" fill="#323232"/><rect x="855.76" width="13" height="13" fill="#363636"/><rect x="868.76" width="13" height="13" fill="#383838"/><rect x="881.76" width="13" height="13" fill="#3a3a3a"/><rect x="894.76" width="13" height="13" fill="#3b3b3b"/><rect x="907.76" width="13" height="13" fill="#3b3b3b"/><rect x="920.76" width="13" height="13" fill="#3b3b3b"/><rect x="933.76" width="13" height="13" fill="#3b3b3b"/><rect x="946.76" width="13" height="13" fill="#3b3b3b"/><rect x="959.76" width="13" height="13" fill="#3b3b3b"/><rect x="972.76" width="13" height="13" fill="#3c3c3c"/><rect x="985.76" width="13" height="13" fill="#3e3e3e"/><rect x="998.76" width="13" height="13" fill="#3f3f3f"/><rect x="1011.76" width="13" height="13" fill="#414141"/><rect x="1024.76" width="13" height="13" fill="#414141"/><rect x="1037.76" width="13" height="13" fill="#414141"/><rect x="1050.76" width="13" height="13" fill="#3f3f3f"/><rect x="1063.76" width="13" height="13" fill="#3b3b3b"/><rect x="1076.76" width="13" height="13" fill="#363636"/><rect x="1089.76" width="13" height="13" fill="#303030"/><rect x="1102.76" width="13" height="13" fill="#2b2b2b"/><rect x="1115.76" width="13" height="13" fill="#262626"/><rect x="1128.76" width="13" height="13" fill="#232323"/><rect x="1141.76" width="13" height="13" fill="#202020"/><rect x="1154.76" width="13" height="13" fill="#1f1f1f"/><rect x="1167.76" width="13" height="13" fill="#1f1f1f"/><rect x="1180.76" width="13" height="13" fill="#1f1f1f"/><rect x="1193.76" width="13" height="13" fill="#1e1e1e"/><rect x="1206.76" width="13" height="13" fill="#1c1c1c"/><rect x="1219.76" width="13" height="13" fill="#191919"/><rect x="1232.76" width="13" height="13" fill="#161616"/><rect x="1245.76" width="13" height="13" fill="#111111"/><rect x="1258.76" width="13" height="13" fill="#0d0d0d"/></g>
<g transform="translate(0 372.81)"><rect x="660.76" width="13" height="13" fill="#090909"/><rect x="673.76" width="13" height="13" fill="#0c0c0c"/><rect x="686.76" width="13" height="13" fill="#0f0f0f"/><rect x="699.76" width="13" height="13" fill="#121212"/><rect x="712.76" width="13" height="13" fill="#151515"/><rect x="725.76" width="13" height="13" fill="#181818"/><rect x="738.76" width="13" height="13" fill="#1a1a1a"/><rect x="751.76" width="13" height="13" fill="#1c1c1c"/><rect x="764.76" width="13" height="13" fill="#1e1e1e"/><rect x="777.76" width="13" height="13" fill="#202020"/><rect x="790.76" width="13" height="13" fill="#222222"/><rect x="803.76" width="13" height="13" fill="#242424"/><rect x="816.76" width="13" height="13" fill="#272727"/><rect x="829.76" width="13" height="13" fill="#2a2a2a"/><rect x="842.76" width="13" height="13" fill="#2c2c2c"/><rect x="855.76" width="13" height="13" fill="#2e2e2e"/><rect x="868.76" width="13" height="13" fill="#303030"/><rect x="881.76" width="13" height="13" fill="#313131"/><rect x="894.76" width="13" height="13" fill="#313131"/><rect x="907.76" width="13" height="13" fill="#313131"/><rect x="920.76" width="13" height="13" fill="#313131"/><rect x="933.76" width="13" height="13" fill="#313131"/><rect x="946.76" width="13" height="13" fill="#323232"/><rect x="959.76" width="13" height="13" fill="#333333"/><rect x="972.76" width="13" height="13" fill="#353535"/><rect x="985.76" width="13" height="13" fill="#383838"/><rect x="998.76" width="13" height="13" fill="#3b3b3b"/><rect x="1011.76" width="13" height="13" fill="#3e3e3e"/><rect x="1024.76" width="13" height="13" fill="#3f3f3f"/><rect x="1037.76" width="13" height="13" fill="#3f3f3f"/><rect x="1050.76" width="13" height="13" fill="#3d3d3d"/><rect x="1063.76" width="13" height="13" fill="#393939"/><rect x="1076.76" width="13" height="13" fill="#343434"/><rect x="1089.76" width="13" height="13" fill="#2e2e2e"/><rect x="1102.76" width="13" height="13" fill="#282828"/><rect x="1115.76" width="13" height="13" fill="#242424"/><rect x="1128.76" width="13" height="13" fill="#212121"/><rect x="1141.76" width="13" height="13" fill="#1f1f1f"/><rect x="1154.76" width="13" height="13" fill="#1e1e1e"/><rect x="1167.76" width="13" height="13" fill="#1e1e1e"/><rect x="1180.76" width="13" height="13" fill="#1d1d1d"/><rect x="1193.76" width="13" height="13" fill="#1c1c1c"/><rect x="1206.76" width="13" height="13" fill="#1a1a1a"/><rect x="1219.76" width="13" height="13" fill="#181818"/><rect x="1232.76" width="13" height="13" fill="#141414"/><rect x="1245.76" width="13" height="13" fill="#101010"/><rect x="1258.76" width="13" height="13" fill="#0c0c0c"/></g>
<g transform="translate(0 385.81)"><rect x="660.76" width="13" height="13" fill="#070707"/><rect x="673.76" width="13" height="13" fill="#090909"/><rect x="686.76" width="13" height="13" fill="#0c0c0c"/><rect x="699.76" width="13" height="13" fill="#0f0f0f"/><rect x="712.76" width="13" height="13" fill="#121212"/><rect x="725.76" width="13" height="13" fill="#151515"/><rect x="738.76" width="13" height="13" fill="#171717"/><rect x="751.76" width="13" height="13" fill="#191919"/><rect x="764.76" width="13" height="13" fill="#1b1b1b"/><rect x="777.76" width="13" height="13" fill="#1d1d1d"/><rect x="790.76" width="13" height="13" fill="#1e1e1e"/><rect x="803.76" width="13" height="13" fill="#202020"/><rect x="816.76" width="13" height="13" fill="#212121"/><rect x="829.76" width="13" height="13" fill="#232323"/><rect x="842.76" width="13" height="13" fill="#252525"/><rect x="855.76" width="13" height="13" fill="#262626"/><rect x="868.76" width="13" height="13" fill="#262626"/><rect x="881.76" width="13" height="13" fill="#262626"/><rect x="894.76" width="13" height="13" fill="#262626"/><rect x="907.76" width="13" height="13" fill="#252525"/><rect x="920.76" width="13" height="13" fill="#252525"/><rect x="933.76" width="13" height="13" fill="#262626"/><rect x="946.76" width="13" height="13" fill="#272727"/><rect x="959.76" width="13" height="13" fill="#292929"/><rect x="972.76" width="13" height="13" fill="#2c2c2c"/><rect x="985.76" width="13" height="13" fill="#303030"/><rect x="998.76" width="13" height="13" fill="#343434"/><rect x="1011.76" width="13" height="13" fill="#373737"/><rect x="1024.76" width="13" height="13" fill="#393939"/><rect x="1037.76" width="13" height="13" fill="#393939"/><rect x="1050.76" width="13" height="13" fill="#373737"/><rect x="1063.76" width="13" height="13" fill="#333333"/><rect x="1076.76" width="13" height="13" fill="#2f2f2f"/><rect x="1089.76" width="13" height="13" fill="#2a2a2a"/><rect x="1102.76" width="13" height="13" fill="#252525"/><rect x="1115.76" width="13" height="13" fill="#212121"/><rect x="1128.76" width="13" height="13" fill="#1f1f1f"/><rect x="1141.76" width="13" height="13" fill="#1d1d1d"/><rect x="1154.76" width="13" height="13" fill="#1c1c1c"/><rect x="1167.76" width="13" height="13" fill="#1c1c1c"/><rect x="1180.76" width="13" height="13" fill="#1b1b1b"/><rect x="1193.76" width="13" height="13" fill="#1a1a1a"/><rect x="1206.76" width="13" height="13" fill="#181818"/><rect x="1219.76" width="13" height="13" fill="#151515"/><rect x="1232.76" width="13" height="13" fill="#121212"/><rect x="1245.76" width="13" height="13" fill="#0e0e0e"/><rect x="1258.76" width="13" height="13" fill="#0b0b0b"/></g>
<g transform="translate(0 398.81)"><rect x="660.76" width="13" height="13" fill="#060606"/><rect x="673.76" width="13" height="13" fill="#080808"/><rect x="686.76" width="13" height="13" fill="#0a0a0a"/><rect x="699.76" width="13" height="13" fill="#0d0d0d"/><rect x="712.76" width="13" height="13" fill="#0f0f0f"/><rect x="725.76" width="13" height="13" fill="#121212"/><rect x="738.76" width="13" height="13" fill="#141414"/><rect x="751.76" width="13" height="13" fill="#161616"/><rect x="764.76" width="13" height="13" fill="#181818"/><rect x="777.76" width="13" height="13" fill="#191919"/><rect x="790.76" width="13" height="13" fill="#1a1a1a"/><rect x="803.76" width="13" height="13" fill="#1b1b1b"/><rect x="816.76" width="13" height="13" fill="#1d1d1d"/><rect x="829.76" width="13" height="13" fill="#1e1e1e"/><rect x="842.76" width="13" height="13" fill="#1f1f1f"/><rect x="855.76" width="13" height="13" fill="#1f1f1f"/><rect x="868.76" width="13" height="13" fill="#1f1f1f"/><rect x="881.76" width="13" height="13" fill="#1f1f1f"/><rect x="894.76" width="13" height="13" fill="#1f1f1f"/><rect x="907.76" width="13" height="13" fill="#1e1e1e"/><rect x="920.76" width="13" height="13" fill="#1e1e1e"/><rect x="933.76" width="13" height="13" fill="#1f1f1f"/><rect x="946.76" width="13" height="13" fill="#202020"/><rect x="959.76" width="13" height="13" fill="#222222"/><rect x="972.76" width="13" height="13" fill="#252525"/><rect x="985.76" width="13" height="13" fill="#282828"/><rect x="998.76" width="13" height="13" fill="#2c2c2c"/><rect x="1011.76" width="13" height="13" fill="#2f2f2f"/><rect x="1024.76" width="13" height="13" fill="#303030"/><rect x="1037.76" width="13" height="13" fill="#313131"/><rect x="1050.76" width="13" height="13" fill="#2f2f2f"/><rect x="1063.76" width="13" height="13" fill="#2c2c2c"/><rect x="1076.76" width="13" height="13" fill="#292929"/><rect x="1089.76" width="13" height="13" fill="#252525"/><rect x="1102.76" width="13" height="13" fill="#212121"/><rect x="1115.76" width="13" height="13" fill="#1e1e1e"/><rect x="1128.76" width="13" height="13" fill="#1c1c1c"/><rect x="1141.76" width="13" height="13" fill="#1b1b1b"/><rect x="1154.76" width="13" height="13" fill="#1a1a1a"/><rect x="1167.76" width="13" height="13" fill="#191919"/><rect x="1180.76" width="13" height="13" fill="#181818"/><rect x="1193.76" width="13" height="13" fill="#171717"/><rect x="1206.76" width="13" height="13" fill="#141414"/><rect x="1219.76" width="13" height="13" fill="#111111"/><rect x="1232.76" width="13" height="13" fill="#0e0e0e"/><rect x="1245.76" width="13" height="13" fill="#0b0b0b"/><rect x="1258.76" width="13" height="13" fill="#080808"/></g>
<g transform="translate(0 411.81)"><rect x="660.76" width="13" height="13" fill="#060606"/><rect x="673.76" width="13" height="13" fill="#080808"/><rect x="686.76" width="13" height="13" fill="#0a0a0a"/><rect x="699.76" width="13" height="13" fill="#0d0d0d"/><rect x="712.76" width="13" height="13" fill="#0f0f0f"/><rect x="725.76" width="13" height="13" fill="#111111"/><rect x="738.76" width="13" height="13" fill="#131313"/><rect x="751.76" width="13" height="13" fill="#151515"/><rect x="764.76" width="13" height="13" fill="#161616"/><rect x="777.76" width="13" height="13" fill="#171717"/><rect x="790.76" width="13" height="13" fill="#181818"/><rect x="803.76" width="13" height="13" fill="#191919"/><rect x="816.76" width="13" height="13" fill="#1b1b1b"/><rect x="829.76" width="13" height="13" fill="#1c1c1c"/><rect x="842.76" width="13" height="13" fill="#1c1c1c"/><rect x="855.76" width="13" height="13" fill="#1d1d1d"/><rect x="868.76" width="13" height="13" fill="#1d1d1d"/><rect x="881.76" width="13" height="13" fill="#1d1d1d"/><rect x="894.76" width="13" height="13" fill="#1d1d1d"/><rect x="907.76" width="13" height="13" fill="#1c1c1c"/><rect x="920.76" width="13" height="13" fill="#1c1c1c"/><rect x="933.76" width="13" height="13" fill="#1c1c1c"/><rect x="946.76" width="13" height="13" fill="#1d1d1d"/><rect x="959.76" width="13" height="13" fill="#1e1e1e"/><rect x="972.76" width="13" height="13" fill="#202020"/><rect x="985.76" width="13" height="13" fill="#232323"/><rect x="998.76" width="13" height="13" fill="#252525"/><rect x="1011.76" width="13" height="13" fill="#272727"/><rect x="1024.76" width="13" height="13" fill="#282828"/><rect x="1037.76" width="13" height="13" fill="#292929"/><rect x="1050.76" width="13" height="13" fill="#282828"/><rect x="1063.76" width="13" height="13" fill="#262626"/><rect x="1076.76" width="13" height="13" fill="#232323"/><rect x="1089.76" width="13" height="13" fill="#202020"/><rect x="1102.76" width="13" height="13" fill="#1d1d1d"/><rect x="1115.76" width="13" height="13" fill="#1a1a1a"/><rect x="1128.76" width="13" height="13" fill="#181818"/><rect x="1141.76" width="13" height="13" fill="#171717"/><rect x="1154.76" width="13" height="13" fill="#161616"/><rect x="1167.76" width="13" height="13" fill="#151515"/><rect x="1180.76" width="13" height="13" fill="#131313"/><rect x="1193.76" width="13" height="13" fill="#121212"/><rect x="1206.76" width="13" height="13" fill="#0f0f0f"/><rect x="1219.76" width="13" height="13" fill="#0d0d0d"/><rect x="1232.76" width="13" height="13" fill="#0a0a0a"/><rect x="1245.76" width="13" height="13" fill="#080808"/><rect x="1258.76" width="13" height="13" fill="#050505"/></g>
<g transform="translate(0 424.81)"><rect x="660.76" width="13" height="13" fill="#080808"/><rect x="673.76" width="13" height="13" fill="#0a0a0a"/><rect x="686.76" width="13" height="13" fill="#0d0d0d"/><rect x="699.76" width="13" height="13" fill="#0f0f0f"/><rect x="712.76" width="13" height="13" fill="#121212"/><rect x="725.76" width="13" height="13" fill="#141414"/><rect x="738.76" width="13" height="13" fill="#161616"/><rect x="751.76" width="13" height="13" fill="#171717"/><rect x="764.76" width="13" height="13" fill="#181818"/><rect x="777.76" width="13" height="13" fill="#191919"/><rect x="790.76" width="13" height="13" fill="#1a1a1a"/><rect x="803.76" width="13" height="13" fill="#1b1b1b"/><rect x="816.76" width="13" height="13" fill="#1d1d1d"/><rect x="829.76" width="13" height="13" fill="#1e1e1e"/><rect x="842.76" width="13" height="13" fill="#1f1f1f"/><rect x="855.76" width="13" height="13" fill="#1f1f1f"/><rect x="868.76" width="13" height="13" fill="#202020"/><rect x="881.76" width="13" height="13" fill="#1f1f1f"/><rect x="894.76" width="13" height="13" fill="#1f1f1f"/><rect x="907.76" width="13" height="13" fill="#1e1e1e"/><rect x="920.76" width="13" height="13" fill="#1d1d1d"/><rect x="933.76" width="13" height="13" fill="#1d1d1d"/><rect x="946.76" width="13" height="13" fill="#1c1c1c"/><rect x="959.76" width="13" height="13" fill="#1c1c1c"/><rect x="972.76" width="13" height="13" fill="#1d1d1d"/><rect x="985.76" width="13" height="13" fill="#1e1e1e"/><rect x="998.76" width="13" height="13" fill="#1f1f1f"/><rect x="1011.76" width="13" height="13" fill="#202020"/><rect x="1024.76" width="13" height="13" fill="#212121"/><rect x="1037.76" width="13" height="13" fill="#212121"/><rect x="1050.76" width="13" height="13" fill="#212121"/><rect x="1063.76" width="13" height="13" fill="#1f1f1f"/><rect x="1076.76" width="13" height="13" fill="#1d1d1d"/><rect x="1089.76" width="13" height="13" fill="#1b1b1b"/><rect x="1102.76" width="13" height="13" fill="#181818"/><rect x="1115.76" width="13" height="13" fill="#161616"/><rect x="1128.76" width="13" height="13" fill="#141414"/><rect x="1141.76" width="13" height="13" fill="#121212"/><rect x="1154.76" width="13" height="13" fill="#111111"/><rect x="1167.76" width="13" height="13" fill="#0f0f0f"/><rect x="1180.76" width="13" height="13" fill="#0e0e0e"/><rect x="1193.76" width="13" height="13" fill="#0c0c0c"/><rect x="1206.76" width="13" height="13" fill="#0a0a0a"/><rect x="1219.76" width="13" height="13" fill="#080808"/><rect x="1232.76" width="13" height="13" fill="#060606"/><rect x="1245.76" width="13" height="13" fill="#050505"/><rect x="1258.76" width="13" height="13" fill="#030303"/></g>
<g transform="translate(0 437.81)"><rect x="660.76" width="13" height="13" fill="#090909"/><rect x="673.76" width="13" height="13" fill="#0c0c0c"/><rect x="686.76" width="13" height="13" fill="#0f0f0f"/><rect x="699.76" width="13" height="13" fill="#121212"/><rect x="712.76" width="13" height="13" fill="#151515"/><rect x="725.76" width="13" height="13" fill="#171717"/><rect x="738.76" width="13" height="13" fill="#191919"/><rect x="751.76" width="13" height="13" fill="#1b1b1b"/><rect x="764.76" width="13" height="13" fill="#1c1c1c"/><rect x="777.76" width="13" height="13" fill="#1d1d1d"/><rect x="790.76" width="13" height="13" fill="#1e1e1e"/><rect x="803.76" width="13" height="13" fill="#1f1f1f"/><rect x="816.76" width="13" height="13" fill="#212121"/><rect x="829.76" width="13" height="13" fill="#222222"/><rect x="842.76" width="13" height="13" fill="#232323"/><rect x="855.76" width="13" height="13" fill="#232323"/><rect x="868.76" width="13" height="13" fill="#232323"/><rect x="881.76" width="13" height="13" fill="#222222"/><rect x="894.76" width="13" height="13" fill="#212121"/><rect x="907.76" width="13" height="13" fill="#202020"/><rect x="920.76" width="13" height="13" fill="#1e1e1e"/><rect x="933.76" width="13" height="13" fill="#1d1d1d"/><rect x="946.76" width="13" height="13" fill="#1b1b1b"/><rect x="959.76" width="13" height="13" fill="#1a1a1a"/><rect x="972.76" width="13" height="13" fill="#191919"/><rect x="985.76" width="13" height="13" fill="#181818"/><rect x="998.76" width="13" height="13" fill="#191919"/><rect x="1011.76" width="13" height="13" fill="#191919"/><rect x="1024.76" width="13" height="13" fill="#191919"/><rect x="1037.76" width="13" height="13" fill="#1a1a1a"/><rect x="1050.76" width="13" height="13" fill="#191919"/><rect x="1063.76" width="13" height="13" fill="#181818"/><rect x="1076.76" width="13" height="13" fill="#171717"/><rect x="1089.76" width="13" height="13" fill="#151515"/><rect x="1102.76" width="13" height="13" fill="#131313"/><rect x="1115.76" width="13" height="13" fill="#101010"/><rect x="1128.76" width="13" height="13" fill="#0e0e0e"/><rect x="1141.76" width="13" height="13" fill="#0d0d0d"/><rect x="1154.76" width="13" height="13" fill="#0b0b0b"/><rect x="1167.76" width="13" height="13" fill="#0a0a0a"/><rect x="1180.76" width="13" height="13" fill="#080808"/><rect x="1193.76" width="13" height="13" fill="#070707"/><rect x="1206.76" width="13" height="13" fill="#060606"/><rect x="1219.76" width="13" height="13" fill="#040404"/><rect x="1232.76" width="13" height="13" fill="#030303"/><rect x="1245.76" width="13" height="13" fill="#020202"/><rect x="1258.76" width="13" height="13" fill="#020202"/></g>
<g transform="translate(0 450.81)"><rect x="660.76" width="13" height="13" fill="#0a0a0a"/><rect x="673.76" width="13" height="13" fill="#0d0d0d"/><rect x="686.76" width="13" height="13" fill="#111111"/><rect x="699.76" width="13" height="13" fill="#141414"/><rect x="712.76" width="13" height="13" fill="#171717"/><rect x="725.76" width="13" height="13" fill="#191919"/><rect x="738.76" width="13" height="13" fill="#1b1b1b"/><rect x="751.76" width="13" height="13" fill="#1d1d1d"/><rect x="764.76" width="13" height="13" fill="#1e1e1e"/><rect x="777.76" width="13" height="13" fill="#202020"/><rect x="790.76" width="13" height="13" fill="#212121"/><rect x="803.76" width="13" height="13" fill="#222222"/><rect x="816.76" width="13" height="13" fill="#242424"/><rect x="829.76" width="13" height="13" fill="#252525"/><rect x="842.76" width="13" height="13" fill="#252525"/><rect x="855.76" width="13" height="13" fill="#252525"/><rect x="868.76" width="13" height="13" fill="#252525"/><rect x="881.76" width="13" height="13" fill="#232323"/><rect x="894.76" width="13" height="13" fill="#212121"/><rect x="907.76" width="13" height="13" fill="#1f1f1f"/><rect x="920.76" width="13" height="13" fill="#1c1c1c"/><rect x="933.76" width="13" height="13" fill="#1a1a1a"/><rect x="946.76" width="13" height="13" fill="#171717"/><rect x="959.76" width="13" height="13" fill="#151515"/><rect x="972.76" width="13" height="13" fill="#131313"/><rect x="985.76" width="13" height="13" fill="#121212"/><rect x="998.76" width="13" height="13" fill="#121212"/><rect x="1011.76" width="13" height="13" fill="#111111"/><rect x="1024.76" width="13" height="13" fill="#121212"/><rect x="1037.76" width="13" height="13" fill="#121212"/><rect x="1050.76" width="13" height="13" fill="#111111"/><rect x="1063.76" width="13" height="13" fill="#111111"/><rect x="1076.76" width="13" height="13" fill="#101010"/><rect x="1089.76" width="13" height="13" fill="#0e0e0e"/><rect x="1102.76" width="13" height="13" fill="#0c0c0c"/><rect x="1115.76" width="13" height="13" fill="#0b0b0b"/><rect x="1128.76" width="13" height="13" fill="#090909"/><rect x="1141.76" width="13" height="13" fill="#080808"/><rect x="1154.76" width="13" height="13" fill="#060606"/><rect x="1167.76" width="13" height="13" fill="#050505"/><rect x="1180.76" width="13" height="13" fill="#040404"/><rect x="1193.76" width="13" height="13" fill="#030303"/><rect x="1206.76" width="13" height="13" fill="#030303"/><rect x="1219.76" width="13" height="13" fill="#020202"/><rect x="1232.76" width="13" height="13" fill="#010101"/><rect x="1245.76" width="13" height="13" fill="#010101"/><rect x="1258.76" width="13" height="13" fill="#010101"/></g>
<g transform="translate(0 463.81)"><rect x="660.76" width="13" height="13" fill="#090909"/><rect x="673.76" width="13" height="13" fill="#0c0c0c"/><rect x="686.76" width="13" height="13" fill="#0f0f0f"/><rect x="699.76" width="13" height="13" fill="#121212"/><rect x="712.76" width="13" height="13" fill="#151515"/><rect x="725.76" width="13" height="13" fill="#181818"/><rect x="738.76" width="13" height="13" fill="#1a1a1a"/><rect x="751.76" width="13" height="13" fill="#1b1b1b"/><rect x="764.76" width="13" height="13" fill="#1d1d1d"/><rect x="777.76" width="13" height="13" fill="#1e1e1e"/><rect x="790.76" width="13" height="13" fill="#202020"/><rect x="803.76" width="13" height="13" fill="#212121"/><rect x="816.76" width="13" height="13" fill="#222222"/><rect x="829.76" width="13" height="13" fill="#232323"/><rect x="842.76" width="13" height="13" fill="#242424"/><rect x="855.76" width="13" height="13" fill="#232323"/><rect x="868.76" width="13" height="13" fill="#222222"/><rect x="881.76" width="13" height="13" fill="#202020"/><rect x="894.76" width="13" height="13" fill="#1d1d1d"/><rect x="907.76" width="13" height="13" fill="#1a1a1a"/><rect x="920.76" width="13" height="13" fill="#171717"/><rect x="933.76" width="13" height="13" fill="#141414"/><rect x="946.76" width="13" height="13" fill="#121212"/><rect x="959.76" width="13" height="13" fill="#0f0f0f"/><rect x="972.76" width="13" height="13" fill="#0d0d0d"/><rect x="985.76" width="13" height="13" fill="#0c0c0c"/><rect x="998.76" width="13" height="13" fill="#0b0b0b"/><rect x="1011.76" width="13" height="13" fill="#0a0a0a"/><rect x="1024.76" width="13" height="13" fill="#0a0a0a"/><rect x="1037.76" width="13" height="13" fill="#0a0a0a"/><rect x="1050.76" width="13" height="13" fill="#0a0a0a"/><rect x="1063.76" width="13" height="13" fill="#0a0a0a"/><rect x="1076.76" width="13" height="13" fill="#090909"/><rect x="1089.76" width="13" height="13" fill="#080808"/><rect x="1102.76" width="13" height="13" fill="#070707"/><rect x="1115.76" width="13" height="13" fill="#060606"/><rect x="1128.76" width="13" height="13" fill="#050505"/><rect x="1141.76" width="13" height="13" fill="#040404"/><rect x="1154.76" width="13" height="13" fill="#030303"/><rect x="1167.76" width="13" height="13" fill="#020202"/><rect x="1180.76" width="13" height="13" fill="#020202"/><rect x="1193.76" width="13" height="13" fill="#010101"/><rect x="1206.76" width="13" height="13" fill="#010101"/><rect x="1219.76" width="13" height="13" fill="#010101"/><rect x="1232.76" width="13" height="13" fill="#010101"/></g>
<g transform="translate(0 476.81)"><rect x="660.76" width="13" height="13" fill="#070707"/><rect x="673.76" width="13" height="13" fill="#090909"/><rect x="686.76" width="13" height="13" fill="#0c0c0c"/><rect x="699.76" width="13" height="13" fill="#0e0e0e"/><rect x="712.76" width="13" height="13" fill="#111111"/><rect x="725.76" width="13" height="13" fill="#131313"/><rect x="738.76" width="13" height="13" fill="#151515"/><rect x="751.76" width="13" height="13" fill="#161616"/><rect x="764.76" width="13" height="13" fill="#181818"/><rect x="777.76" width="13" height="13" fill="#191919"/><rect x="790.76" width="13" height="13" fill="#1b1b1b"/><rect x="803.76" width="13" height="13" fill="#1c1c1c"/><rect x="816.76" width="13" height="13" fill="#1e1e1e"/><rect x="829.76" width="13" height="13" fill="#1f1f1f"/><rect x="842.76" width="13" height="13" fill="#1f1f1f"/><rect x="855.76" width="13" height="13" fill="#1e1e1e"/><rect x="868.76" width="13" height="13" fill="#1c1c1c"/><rect x="881.76" width="13" height="13" fill="#1a1a1a"/><rect x="894.76" width="13" height="13" fill="#171717"/><rect x="907.76" width="13" height="13" fill="#141414"/><rect x="920.76" width="13" height="13" fill="#111111"/><rect x="933.76" width="13" height="13" fill="#0e0e0e"/><rect x="946.76" width="13" height="13" fill="#0b0b0b"/><rect x="959.76" width="13" height="13" fill="#090909"/><rect x="972.76" width="13" height="13" fill="#080808"/><rect x="985.76" width="13" height="13" fill="#070707"/><rect x="998.76" width="13" height="13" fill="#060606"/><rect x="1011.76" width="13" height="13" fill="#050505"/><rect x="1024.76" width="13" height="13" fill="#050505"/><rect x="1037.76" width="13" height="13" fill="#050505"/><rect x="1050.76" width="13" height="13" fill="#050505"/><rect x="1063.76" width="13" height="13" fill="#050505"/><rect x="1076.76" width="13" height="13" fill="#040404"/><rect x="1089.76" width="13" height="13" fill="#040404"/><rect x="1102.76" width="13" height="13" fill="#030303"/><rect x="1115.76" width="13" height="13" fill="#030303"/><rect x="1128.76" width="13" height="13" fill="#020202"/><rect x="1141.76" width="13" height="13" fill="#020202"/><rect x="1154.76" width="13" height="13" fill="#010101"/><rect x="1167.76" width="13" height="13" fill="#010101"/><rect x="1180.76" width="13" height="13" fill="#010101"/></g>
<g transform="translate(0 489.81)"><rect x="660.76" width="13" height="13" fill="#040404"/><rect x="673.76" width="13" height="13" fill="#060606"/><rect x="686.76" width="13" height="13" fill="#080808"/><rect x="699.76" width="13" height="13" fill="#090909"/><rect x="712.76" width="13" height="13" fill="#0b0b0b"/><rect x="725.76" width="13" height="13" fill="#0d0d0d"/><rect x="738.76" width="13" height="13" fill="#0e0e0e"/><rect x="751.76" width="13" height="13" fill="#101010"/><rect x="764.76" width="13" height="13" fill="#111111"/><rect x="777.76" width="13" height="13" fill="#131313"/><rect x="790.76" width="13" height="13" fill="#151515"/><rect x="803.76" width="13" height="13" fill="#171717"/><rect x="816.76" width="13" height="13" fill="#181818"/><rect x="829.76" width="13" height="13" fill="#191919"/><rect x="842.76" width="13" height="13" fill="#191919"/><rect x="855.76" width="13" height="13" fill="#181818"/><rect x="868.76" width="13" height="13" fill="#161616"/><rect x="881.76" width="13" height="13" fill="#131313"/><rect x="894.76" width="13" height="13" fill="#101010"/><rect x="907.76" width="13" height="13" fill="#0e0e0e"/><rect x="920.76" width="13" height="13" fill="#0b0b0b"/><rect x="933.76" width="13" height="13" fill="#090909"/><rect x="946.76" width="13" height="13" fill="#070707"/><rect x="959.76" width="13" height="13" fill="#050505"/><rect x="972.76" width="13" height="13" fill="#040404"/><rect x="985.76" width="13" height="13" fill="#030303"/><rect x="998.76" width="13" height="13" fill="#030303"/><rect x="1011.76" width="13" height="13" fill="#020202"/><rect x="1024.76" width="13" height="13" fill="#020202"/><rect x="1037.76" width="13" height="13" fill="#020202"/><rect x="1050.76" width="13" height="13" fill="#020202"/><rect x="1063.76" width="13" height="13" fill="#020202"/><rect x="1076.76" width="13" height="13" fill="#020202"/><rect x="1089.76" width="13" height="13" fill="#020202"/><rect x="1102.76" width="13" height="13" fill="#010101"/><rect x="1115.76" width="13" height="13" fill="#010101"/><rect x="1128.76" width="13" height="13" fill="#010101"/><rect x="1141.76" width="13" height="13" fill="#010101"/></g>
<g transform="translate(0 502.81)"><rect x="660.76" width="13" height="13" fill="#020202"/><rect x="673.76" width="13" height="13" fill="#030303"/><rect x="686.76" width="13" height="13" fill="#040404"/><rect x="699.76" width="13" height="13" fill="#050505"/><rect x="712.76" width="13" height="13" fill="#060606"/><rect x="725.76" width="13" height="13" fill="#080808"/><rect x="738.76" width="13" height="13" fill="#090909"/><rect x="751.76" width="13" height="13" fill="#0a0a0a"/><rect x="764.76" width="13" height="13" fill="#0c0c0c"/><rect x="777.76" width="13" height="13" fill="#0e0e0e"/><rect x="790.76" width="13" height="13" fill="#101010"/><rect x="803.76" width="13" height="13" fill="#121212"/><rect x="816.76" width="13" height="13" fill="#131313"/><rect x="829.76" width="13" height="13" fill="#141414"/><rect x="842.76" width="13" height="13" fill="#141414"/><rect x="855.76" width="13" height="13" fill="#131313"/><rect x="868.76" width="13" height="13" fill="#111111"/><rect x="881.76" width="13" height="13" fill="#0f0f0f"/><rect x="894.76" width="13" height="13" fill="#0c0c0c"/><rect x="907.76" width="13" height="13" fill="#090909"/><rect x="920.76" width="13" height="13" fill="#070707"/><rect x="933.76" width="13" height="13" fill="#050505"/><rect x="946.76" width="13" height="13" fill="#040404"/><rect x="959.76" width="13" height="13" fill="#030303"/><rect x="972.76" width="13" height="13" fill="#020202"/><rect x="985.76" width="13" height="13" fill="#010101"/><rect x="998.76" width="13" height="13" fill="#010101"/><rect x="1011.76" width="13" height="13" fill="#010101"/><rect x="1024.76" width="13" height="13" fill="#010101"/><rect x="1037.76" width="13" height="13" fill="#010101"/><rect x="1050.76" width="13" height="13" fill="#010101"/><rect x="1063.76" width="13" height="13" fill="#010101"/><rect x="1076.76" width="13" height="13" fill="#010101"/></g>
<g transform="translate(0 515.81)"><rect x="660.76" width="13" height="13" fill="#010101"/><rect x="673.76" width="13" height="13" fill="#010101"/><rect x="686.76" width="13" height="13" fill="#020202"/><rect x="699.76" width="13" height="13" fill="#030303"/><rect x="712.76" width="13" height="13" fill="#030303"/><rect x="725.76" width="13" height="13" fill="#040404"/><rect x="738.76" width="13" height="13" fill="#050505"/><rect x="751.76" width="13" height="13" fill="#070707"/><rect x="764.76" width="13" height="13" fill="#090909"/><rect x="777.76" width="13" height="13" fill="#0b0b0b"/><rect x="790.76" width="13" height="13" fill="#0d0d0d"/><rect x="803.76" width="13" height="13" fill="#0f0f0f"/><rect x="816.76" width="13" height="13" fill="#101010"/><rect x="829.76" width="13" height="13" fill="#111111"/><rect x="842.76" width="13" height="13" fill="#111111"/><rect x="855.76" width="13" height="13" fill="#101010"/><rect x="868.76" width="13" height="13" fill="#0e0e0e"/><rect x="881.76" width="13" height="13" fill="#0c0c0c"/><rect x="894.76" width="13" height="13" fill="#090909"/><rect x="907.76" width="13" height="13" fill="#070707"/><rect x="920.76" width="13" height="13" fill="#050505"/><rect x="933.76" width="13" height="13" fill="#040404"/><rect x="946.76" width="13" height="13" fill="#030303"/><rect x="959.76" width="13" height="13" fill="#020202"/><rect x="972.76" width="13" height="13" fill="#010101"/><rect x="985.76" width="13" height="13" fill="#010101"/><rect x="998.76" width="13" height="13" fill="#010101"/><rect x="1011.76" width="13" height="13" fill="#010101"/></g>
<g transform="translate(0 528.81)"><rect x="673.76" width="13" height="13" fill="#010101"/><rect x="686.76" width="13" height="13" fill="#010101"/><rect x="699.76" width="13" height="13" fill="#010101"/><rect x="712.76" width="13" height="13" fill="#020202"/><rect x="725.76" width="13" height="13" fill="#030303"/><rect x="738.76" width="13" height="13" fill="#040404"/><rect x="751.76" width="13" height="13" fill="#050505"/><rect x="764.76" width="13" height="13" fill="#070707"/><rect x="777.76" width="13" height="13" fill="#090909"/><rect x="790.76" width="13" height="13" fill="#0b0b0b"/><rect x="803.76" width="13" height="13" fill="#0d0d0d"/><rect x="816.76" width="13" height="13" fill="#0e0e0e"/><rect x="829.76" width="13" height="13" fill="#0f0f0f"/><rect x="842.76" width="13" height="13" fill="#0f0f0f"/><rect x="855.76" width="13" height="13" fill="#0e0e0e"/><rect x="868.76" width="13" height="13" fill="#0c0c0c"/><rect x="881.76" width="13" height="13" fill="#0a0a0a"/><rect x="894.76" width="13" height="13" fill="#080808"/><rect x="907.76" width="13" height="13" fill="#070707"/><rect x="920.76" width="13" height="13" fill="#050505"/><rect x="933.76" width="13" height="13" fill="#040404"/><rect x="946.76" width="13" height="13" fill="#030303"/><rect x="959.76" width="13" height="13" fill="#030303"/><rect x="972.76" width="13" height="13" fill="#020202"/><rect x="985.76" width="13" height="13" fill="#020202"/><rect x="998.76" width="13" height="13" fill="#010101"/><rect x="1011.76" width="13" height="13" fill="#010101"/><rect x="1024.76" width="13" height="13" fill="#010101"/></g>
<g transform="translate(0 541.81)"><rect x="699.76" width="13" height="13" fill="#010101"/><rect x="712.76" width="13" height="13" fill="#010101"/><rect x="725.76" width="13" height="13" fill="#020202"/><rect x="738.76" width="13" height="13" fill="#030303"/><rect x="751.76" width="13" height="13" fill="#040404"/><rect x="764.76" width="13" height="13" fill="#050505"/><rect x="777.76" width="13" height="13" fill="#070707"/><rect x="790.76" width="13" height="13" fill="#090909"/><rect x="803.76" width="13" height="13" fill="#0b0b0b"/><rect x="816.76" width="13" height="13" fill="#0c0c0c"/><rect x="829.76" width="13" height="13" fill="#0c0c0c"/><rect x="842.76" width="13" height="13" fill="#0c0c0c"/><rect x="855.76" width="13" height="13" fill="#0c0c0c"/><rect x="868.76" width="13" height="13" fill="#0a0a0a"/><rect x="881.76" width="13" height="13" fill="#090909"/><rect x="894.76" width="13" height="13" fill="#080808"/><rect x="907.76" width="13" height="13" fill="#070707"/><rect x="920.76" width="13" height="13" fill="#060606"/><rect x="933.76" width="13" height="13" fill="#060606"/><rect x="946.76" width="13" height="13" fill="#050505"/><rect x="959.76" width="13" height="13" fill="#040404"/><rect x="972.76" width="13" height="13" fill="#040404"/><rect x="985.76" width="13" height="13" fill="#030303"/><rect x="998.76" width="13" height="13" fill="#020202"/><rect x="1011.76" width="13" height="13" fill="#010101"/><rect x="1024.76" width="13" height="13" fill="#010101"/><rect x="1037.76" width="13" height="13" fill="#010101"/></g>
<g transform="translate(0 554.81)"><rect x="712.76" width="13" height="13" fill="#010101"/><rect x="725.76" width="13" height="13" fill="#010101"/><rect x="738.76" width="13" height="13" fill="#020202"/><rect x="751.76" width="13" height="13" fill="#030303"/><rect x="764.76" width="13" height="13" fill="#040404"/><rect x="777.76" width="13" height="13" fill="#050505"/><rect x="790.76" width="13" height="13" fill="#070707"/><rect x="803.76" width="13" height="13" fill="#080808"/><rect x="816.76" width="13" height="13" fill="#090909"/><rect x="829.76" width="13" height="13" fill="#090909"/><rect x="842.76" width="13" height="13" fill="#090909"/><rect x="855.76" width="13" height="13" fill="#090909"/><rect x="868.76" width="13" height="13" fill="#090909"/><rect x="881.76" width="13" height="13" fill="#080808"/><rect x="894.76" width="13" height="13" fill="#080808"/><rect x="907.76" width="13" height="13" fill="#080808"/><rect x="920.76" width="13" height="13" fill="#080808"/><rect x="933.76" width="13" height="13" fill="#080808"/><rect x="946.76" width="13" height="13" fill="#070707"/><rect x="959.76" width="13" height="13" fill="#060606"/><rect x="972.76" width="13" height="13" fill="#050505"/><rect x="985.76" width="13" height="13" fill="#040404"/><rect x="998.76" width="13" height="13" fill="#030303"/><rect x="1011.76" width="13" height="13" fill="#020202"/><rect x="1024.76" width="13" height="13" fill="#010101"/><rect x="1037.76" width="13" height="13" fill="#010101"/></g>
<g transform="translate(0 567.81)"><rect x="725.76" width="13" height="13" fill="#010101"/><rect x="738.76" width="13" height="13" fill="#010101"/><rect x="751.76" width="13" height="13" fill="#020202"/><rect x="764.76" width="13" height="13" fill="#020202"/><rect x="777.76" width="13" height="13" fill="#030303"/><rect x="790.76" width="13" height="13" fill="#040404"/><rect x="803.76" width="13" height="13" fill="#050505"/><rect x="816.76" width="13" height="13" fill="#050505"/><rect x="829.76" width="13" height="13" fill="#060606"/><rect x="842.76" width="13" height="13" fill="#060606"/><rect x="855.76" width="13" height="13" fill="#070707"/><rect x="868.76" width="13" height="13" fill="#070707"/><rect x="881.76" width="13" height="13" fill="#070707"/><rect x="894.76" width="13" height="13" fill="#080808"/><rect x="907.76" width="13" height="13" fill="#080808"/><rect x="920.76" width="13" height="13" fill="#090909"/><rect x="933.76" width="13" height="13" fill="#090909"/><rect x="946.76" width="13" height="13" fill="#080808"/><rect x="959.76" width="13" height="13" fill="#080808"/><rect x="972.76" width="13" height="13" fill="#060606"/><rect x="985.76" width="13" height="13" fill="#050505"/><rect x="998.76" width="13" height="13" fill="#040404"/><rect x="1011.76" width="13" height="13" fill="#030303"/><rect x="1024.76" width="13" height="13" fill="#020202"/><rect x="1037.76" width="13" height="13" fill="#010101"/><rect x="1050.76" width="13" height="13" fill="#010101"/></g>
<g transform="translate(0 580.81)"><rect x="738.76" width="13" height="13" fill="#010101"/><rect x="751.76" width="13" height="13" fill="#010101"/><rect x="764.76" width="13" height="13" fill="#010101"/><rect x="777.76" width="13" height="13" fill="#020202"/><rect x="790.76" width="13" height="13" fill="#020202"/><rect x="803.76" width="13" height="13" fill="#030303"/><rect x="816.76" width="13" height="13" fill="#030303"/><rect x="829.76" width="13" height="13" fill="#030303"/><rect x="842.76" width="13" height="13" fill="#040404"/><rect x="855.76" width="13" height="13" fill="#040404"/><rect x="868.76" width="13" height="13" fill="#050505"/><rect x="881.76" width="13" height="13" fill="#060606"/><rect x="894.76" width="13" height="13" fill="#070707"/><rect x="907.76" width="13" height="13" fill="#080808"/><rect x="920.76" width="13" height="13" fill="#080808"/><rect x="933.76" width="13" height="13" fill="#080808"/><rect x="946.76" width="13" height="13" fill="#080808"/><rect x="959.76" width="13" height="13" fill="#070707"/><rect x="972.76" width="13" height="13" fill="#060606"/><rect x="985.76" width="13" height="13" fill="#050505"/><rect x="998.76" width="13" height="13" fill="#040404"/><rect x="1011.76" width="13" height="13" fill="#030303"/><rect x="1024.76" width="13" height="13" fill="#020202"/><rect x="1037.76" width="13" height="13" fill="#010101"/><rect x="1050.76" width="13" height="13" fill="#010101"/></g>
<g transform="translate(0 593.81)"><rect x="764.76" width="13" height="13" fill="#010101"/><rect x="777.76" width="13" height="13" fill="#010101"/><rect x="790.76" width="13" height="13" fill="#010101"/><rect x="803.76" width="13" height="13" fill="#010101"/><rect x="816.76" width="13" height="13" fill="#010101"/><rect x="829.76" width="13" height="13" fill="#020202"/><rect x="842.76" width="13" height="13" fill="#020202"/><rect x="855.76" width="13" height="13" fill="#030303"/><rect x="868.76" width="13" height="13" fill="#030303"/><rect x="881.76" width="13" height="13" fill="#040404"/><rect x="894.76" width="13" height="13" fill="#050505"/><rect x="907.76" width="13" height="13" fill="#060606"/><rect x="920.76" width="13" height="13" fill="#060606"/><rect x="933.76" width="13" height="13" fill="#070707"/><rect x="946.76" width="13" height="13" fill="#060606"/><rect x="959.76" width="13" height="13" fill="#060606"/><rect x="972.76" width="13" height="13" fill="#050505"/><rect x="985.76" width="13" height="13" fill="#040404"/><rect x="998.76" width="13" height="13" fill="#030303"/><rect x="1011.76" width="13" height="13" fill="#020202"/><rect x="1024.76" width="13" height="13" fill="#010101"/><rect x="1037.76" width="13" height="13" fill="#010101"/></g>
<g transform="translate(0 606.81)"><rect x="816.76" width="13" height="13" fill="#010101"/><rect x="829.76" width="13" height="13" fill="#010101"/><rect x="842.76" width="13" height="13" fill="#010101"/><rect x="855.76" width="13" height="13" fill="#010101"/><rect x="868.76" width="13" height="13" fill="#020202"/><rect x="881.76" width="13" height="13" fill="#020202"/><rect x="894.76" width="13" height="13" fill="#030303"/><rect x="907.76" width="13" height="13" fill="#040404"/><rect x="920.76" width="13" height="13" fill="#040404"/><rect x="933.76" width="13" height="13" fill="#040404"/><rect x="946.76" width="13" height="13" fill="#040404"/><rect x="959.76" width="13" height="13" fill="#040404"/><rect x="972.76" width="13" height="13" fill="#030303"/><rect x="985.76" width="13" height="13" fill="#030303"/><rect x="998.76" width="13" height="13" fill="#020202"/><rect x="1011.76" width="13" height="13" fill="#010101"/><rect x="1024.76" width="13" height="13" fill="#010101"/><rect x="1037.76" width="13" height="13" fill="#010101"/></g>
</g></g>
<path d="M851.5 47.81V580.24M1048.5 47.81V580.24" stroke="#fff" stroke-width="1" fill="none"/>
<path d="M699.76 307.26L1232.19 307.26" stroke="#cd2626" stroke-width="1.5" stroke-dasharray="6 6" stroke-linecap="round" fill="none"/>
<path d="M959.75 580.24L959.75 47.81" stroke="#006400" stroke-width="1.5" stroke-dasharray="6 6" stroke-linecap="round" fill="none"/>
<path d="M970.03 580.24L970.03 47.81" stroke="#006400" stroke-width="1.5" stroke-dasharray="6 6" stroke-linecap="round" fill="none"/>
<rect x="699.76" y="47.81" width="532.43" height="532.43" fill="none" stroke="#000" stroke-width="0.75"/>
<path d="M748.46 580.24H1181.33M748.46 580.24v5.98M856.68 580.24v5.98M964.89 580.24v5.98M1073.11 580.24v5.98M1181.33 580.24v5.98M699.76 133.54V471.95M699.76 471.95h-5.98M699.76 359.15h-5.98M699.76 246.34h-5.98M699.76 133.54h-5.98" fill="none" stroke="#000" stroke-width="0.75"/>
<g font-size="10.5" text-anchor="middle">
<text x="748.46" y="601.7">-400</text>
<text x="856.68" y="601.7">-200</text>
<text x="964.89" y="601.7">0</text>
<text x="1073.11" y="601.7">200</text>
<text x="1181.33" y="601.7">400</text>
<text transform="translate(685.4 471.95) rotate(-90)">80</text>
<text transform="translate(685.4 359.15) rotate(-90)">85</text>
<text transform="translate(685.4 246.34) rotate(-90)">90</text>
<text transform="translate(685.4 133.54) rotate(-90)">95</text>
</g>
<text x="965.98" y="625.7" font-size="15.95" text-anchor="middle">Distance to peak summit</text>
<text transform="translate(661.5 314.42) rotate(-90)" font-size="15.75" text-anchor="middle">Motif score</text>
<text x="965.98" y="31.9" font-size="21.55" font-weight="bold" text-anchor="middle">Density heat map for the top hits</text>
<polygon points="79.48,1200.46 81.41,1200.44 83.33,1200.42 85.26,1200.38 87.18,1200.33 89.11,1200.27 91.03,1200.2 92.96,1200.11 94.89,1200 96.81,1199.86 98.74,1199.7 100.66,1199.52 102.59,1199.3 104.51,1199.06 106.44,1198.78 108.37,1198.48 110.29,1198.14 112.22,1197.79 114.14,1197.41 116.07,1197.01 117.99,1196.61 119.92,1196.19 121.85,1195.78 123.77,1195.38 125.7,1194.98 127.62,1194.61 129.55,1194.26 131.47,1193.93 133.4,1193.62 135.33,1193.35 137.25,1193.11 139.18,1192.89 141.1,1192.7 143.03,1192.53 144.95,1192.39 146.88,1192.26 148.81,1192.14 150.73,1192.04 152.66,1191.95 154.58,1191.86 156.51,1191.77 158.44,1191.68 160.36,1191.58 162.29,1191.48 164.21,1191.35 166.14,1191.21 168.06,1191.04 169.99,1190.83 171.92,1190.57 173.84,1190.25 175.77,1189.85 177.69,1189.38 179.62,1188.8 181.54,1188.1 183.47,1187.28 185.4,1186.31 187.32,1185.18 189.25,1183.88 191.17,1182.41 193.1,1180.75 195.02,1178.92 196.95,1176.91 198.88,1174.75 200.8,1172.44 202.73,1170.01 204.65,1167.5 206.58,1164.93 208.5,1162.35 210.43,1159.8 212.36,1157.31 214.28,1154.93 216.21,1152.69 218.13,1150.63 220.06,1148.78 221.98,1147.14 223.91,1145.74 225.84,1144.57 227.76,1143.64 229.69,1142.91 231.61,1142.36 233.54,1141.97 235.46,1141.69 237.39,1141.48 239.32,1141.3 241.24,1141.09 243.17,1140.8 245.09,1140.39 247.02,1139.81 248.95,1139.03 250.87,1138 252.8,1136.71 254.72,1135.14 256.65,1133.26 258.57,1131.09 260.5,1128.63 262.43,1125.91 264.35,1122.94 266.28,1119.77 268.2,1116.45 270.13,1113.03 272.05,1109.57 273.98,1106.13 275.91,1102.78 277.83,1099.58 279.76,1096.58 281.68,1093.85 283.61,1091.42 285.53,1089.31 287.46,1087.54 289.39,1086.1 291.31,1084.98 293.24,1084.14 295.16,1083.52 297.09,1083.06 299.01,1082.68 300.94,1082.3 302.87,1081.83 304.79,1081.19 306.72,1080.29 308.64,1079.07 310.57,1077.46 312.49,1075.42 314.42,1072.93 316.35,1069.97 318.27,1066.56 320.2,1062.71 322.12,1058.48 324.05,1053.9 325.98,1049.04 327.9,1043.97 329.83,1038.74 331.75,1033.41 333.68,1028.04 335.6,1022.67 337.53,1017.32 339.46,1012.01 341.38,1006.75 343.31,1001.52 345.23,996.3 347.16,991.05 349.08,985.73 351.01,980.28 352.94,974.65 354.86,968.78 356.79,962.63 358.71,956.13 360.64,949.24 362.56,941.91 364.49,934.12 366.42,925.84 368.34,917.04 370.27,907.73 372.19,897.9 374.12,887.59 376.04,876.82 377.97,865.64 379.9,854.12 381.82,842.33 383.75,830.37 385.67,818.35 387.6,806.39 389.52,794.62 391.45,783.16 393.38,772.16 395.3,761.74 397.23,752.01 399.15,743.09 401.08,735.07 403,728.01 404.93,721.97 406.86,716.97 408.78,713.03 410.71,710.15 412.63,708.33 414.56,707.53 416.49,707.75 418.41,708.96 420.34,711.15 422.26,714.33 424.19,718.47 426.11,723.59 428.04,729.69 429.97,736.77 431.89,744.82 433.82,753.82 435.74,763.75 437.67,774.56 439.59,786.17 441.52,798.5 443.45,811.45 445.37,824.9 447.3,838.74 449.22,852.82 451.15,867.02 453.07,881.22 455,895.31 456.93,909.2 458.85,922.8 460.78,936.07 462.7,948.95 464.63,961.43 466.55,973.5 468.48,985.16 470.41,996.42 472.33,1007.3 474.26,1017.82 476.18,1027.99 478.11,1037.84 480.03,1047.37 481.96,1056.59 483.89,1065.5 485.81,1074.11 487.74,1082.41 489.66,1090.39 491.59,1098.04 493.51,1105.36 495.44,1112.33 497.37,1118.96 499.29,1125.23 501.22,1131.16 503.14,1136.73 505.07,1141.97 507,1146.88 508.92,1151.47 510.85,1155.75 512.77,1159.75 514.7,1163.47 516.62,1166.94 518.55,1170.17 520.48,1173.18 522.4,1175.97 524.33,1178.57 526.25,1180.97 528.18,1183.19 530.1,1185.25 532.03,1187.13 533.96,1188.86 535.88,1190.43 537.81,1191.85 539.73,1193.12 541.66,1194.26 543.58,1195.27 545.51,1196.15 547.44,1196.91 549.36,1197.57 551.29,1198.13 553.21,1198.61 555.14,1199 557.06,1199.33 558.99,1199.59 560.92,1199.8 562.84,1199.98 564.77,1200.11 566.69,1200.21 568.62,1200.29 570.54,1200.36 572.47,1200.4" fill="#f5deb3" stroke="#000" stroke-width="1.1" stroke-linejoin="round"/>
<path d="M330.89 1220.24L330.89 687.81" stroke="#cd2626" stroke-width="1.5" stroke-dasharray="6 6" stroke-linecap="round" fill="none"/>
<rect x="59.76" y="687.81" width="532.43" height="532.43" fill="none" stroke="#000" stroke-width="0.75"/>
<path d="M129.46 1220.24H538.87M129.46 1220.24v5.98M211.34 1220.24v5.98M293.22 1220.24v5.98M375.1 1220.24v5.98M456.99 1220.24v5.98M538.87 1220.24v5.98M59.76 717.31V1200.52M59.76 1200.52h-5.98M59.76 1119.99h-5.98M59.76 1039.45h-5.98M59.76 958.92h-5.98M59.76 878.38h-5.98M59.76 797.85h-5.98M59.76 717.31h-5.98" fill="none" stroke="#000" stroke-width="0.75"/>
<g font-size="10.5" text-anchor="middle">
<text x="129.46" y="1241.7">75</text>
<text x="211.34" y="1241.7">80</text>
<text x="293.22" y="1241.7">85</text>
<text x="375.1" y="1241.7">90</text>
<text x="456.99" y="1241.7">95</text>
<text x="538.87" y="1241.7">100</text>
<text transform="translate(45.4 1200.52) rotate(-90)">0.00</text>
<text transform="translate(45.4 1119.99) rotate(-90)">0.02</text>
<text transform="translate(45.4 1039.45) rotate(-90)">0.04</text>
<text transform="translate(45.4 958.92) rotate(-90)">0.06</text>
<text transform="translate(45.4 878.38) rotate(-90)">0.08</text>
<text transform="translate(45.4 797.85) rotate(-90)">0.10</text>
<text transform="translate(45.4 717.31) rotate(-90)">0.12</text>
</g>
<text x="325.98" y="1265.7" font-size="15.95" text-anchor="middle">Motif score</text>
<text transform="translate(21.5 954.42) rotate(-90)" font-size="15.75" text-anchor="middle">Density</text>
<text x="325.98" y="671.9" font-size="21.55" font-weight="bold" text-anchor="middle">Motif score threshold: 87.300</text>
<polygon points="719.48,1199.74 721.41,1199.54 723.33,1199.29 725.26,1198.98 727.18,1198.61 729.11,1198.17 731.03,1197.63 732.96,1196.99 734.89,1196.23 736.81,1195.33 738.74,1194.26 740.66,1193.02 742.59,1191.57 744.51,1189.89 746.44,1187.96 748.37,1185.75 750.29,1183.22 752.22,1180.36 754.14,1177.13 756.07,1173.52 757.99,1169.48 759.92,1165 761.85,1160.05 763.77,1154.62 765.7,1148.68 767.62,1142.24 769.55,1135.27 771.47,1127.79 773.4,1119.78 775.33,1111.26 777.25,1102.25 779.18,1092.77 781.1,1082.84 783.03,1072.5 784.95,1061.79 786.88,1050.74 788.81,1039.42 790.73,1027.87 792.66,1016.15 794.58,1004.32 796.51,992.44 798.44,980.57 800.36,968.77 802.29,957.1 804.21,945.62 806.14,934.38 808.06,923.45 809.99,912.85 811.92,902.64 813.84,892.86 815.77,883.53 817.69,874.68 819.62,866.33 821.54,858.49 823.47,851.17 825.4,844.36 827.32,838.07 829.25,832.29 831.17,826.98 833.1,822.15 835.02,817.75 836.95,813.76 838.88,810.14 840.8,806.87 842.73,803.91 844.65,801.21 846.58,798.74 848.5,796.47 850.43,794.35 852.36,792.35 854.28,790.44 856.21,788.59 858.13,786.77 860.06,784.97 861.98,783.17 863.91,781.35 865.84,779.51 867.76,777.64 869.69,775.75 871.61,773.84 873.54,771.93 875.46,770.03 877.39,768.15 879.32,766.31 881.24,764.54 883.17,762.85 885.09,761.27 887.02,759.8 888.95,758.48 890.87,757.3 892.8,756.29 894.72,755.44 896.65,754.76 898.57,754.24 900.5,753.88 902.43,753.66 904.35,753.56 906.28,753.57 908.2,753.66 910.13,753.8 912.05,753.95 913.98,754.1 915.91,754.2 917.83,754.22 919.76,754.14 921.68,753.92 923.61,753.55 925.53,753.01 927.46,752.27 929.39,751.33 931.31,750.19 933.24,748.85 935.16,747.31 937.09,745.6 939.01,743.72 940.94,741.7 942.87,739.58 944.79,737.38 946.72,735.14 948.64,732.89 950.57,730.67 952.49,728.52 954.42,726.45 956.35,724.51 958.27,722.72 960.2,721.1 962.12,719.67 964.05,718.43 965.98,717.4 967.9,716.55 969.83,715.9 971.75,715.42 973.68,715.09 975.6,714.9 977.53,714.81 979.46,714.79 981.38,714.82 983.31,714.86 985.23,714.89 987.16,714.88 989.08,714.81 991.01,714.65 992.94,714.4 994.86,714.05 996.79,713.59 998.71,713.03 1000.64,712.39 1002.56,711.67 1004.49,710.92 1006.42,710.15 1008.34,709.41 1010.27,708.73 1012.19,708.16 1014.12,707.75 1016.04,707.53 1017.97,707.56 1019.9,707.88 1021.82,708.53 1023.75,709.55 1025.67,710.98 1027.6,712.85 1029.52,715.17 1031.45,717.98 1033.38,721.28 1035.3,725.06 1037.23,729.34 1039.15,734.09 1041.08,739.31 1043,744.96 1044.93,751.01 1046.86,757.43 1048.78,764.18 1050.71,771.2 1052.63,778.46 1054.56,785.89 1056.49,793.45 1058.41,801.08 1060.34,808.73 1062.26,816.33 1064.19,823.85 1066.11,831.23 1068.04,838.43 1069.97,845.41 1071.89,852.14 1073.82,858.6 1075.74,864.75 1077.67,870.61 1079.59,876.15 1081.52,881.38 1083.45,886.32 1085.37,890.98 1087.3,895.39 1089.22,899.58 1091.15,903.59 1093.07,907.48 1095,911.27 1096.93,915.03 1098.85,918.8 1100.78,922.64 1102.7,926.6 1104.63,930.74 1106.55,935.09 1108.48,939.7 1110.41,944.6 1112.33,949.84 1114.26,955.42 1116.18,961.37 1118.11,967.7 1120.03,974.41 1121.96,981.48 1123.89,988.9 1125.81,996.65 1127.74,1004.71 1129.66,1013.02 1131.59,1021.56 1133.51,1030.27 1135.44,1039.11 1137.37,1048.03 1139.29,1056.96 1141.22,1065.87 1143.14,1074.69 1145.07,1083.39 1147,1091.9 1148.92,1100.18 1150.85,1108.21 1152.77,1115.93 1154.7,1123.32 1156.62,1130.35 1158.55,1137.01 1160.48,1143.28 1162.4,1149.14 1164.33,1154.61 1166.25,1159.66 1168.18,1164.32 1170.1,1168.59 1172.03,1172.48 1173.96,1176 1175.88,1179.18 1177.81,1182.03 1179.73,1184.57 1181.66,1186.82 1183.58,1188.81 1185.51,1190.56 1187.44,1192.08 1189.36,1193.4 1191.29,1194.55 1193.21,1195.53 1195.14,1196.37 1197.06,1197.09 1198.99,1197.69 1200.92,1198.2 1202.84,1198.63 1204.77,1198.99 1206.69,1199.28 1208.62,1199.52 1210.54,1199.72 1212.47,1199.89" fill="#f5deb3" stroke="#000" stroke-width="1.1" stroke-linejoin="round"/>
<path d="M962.09 1220.24L962.09 687.81" stroke="#006400" stroke-width="1.5" stroke-dasharray="6 6" stroke-linecap="round" fill="none"/>
<path d="M968.51 1220.24L968.51 687.81" stroke="#006400" stroke-width="1.5" stroke-dasharray="6 6" stroke-linecap="round" fill="none"/>
<rect x="699.76" y="687.81" width="532.43" height="532.43" fill="none" stroke="#000" stroke-width="0.75"/>
<path d="M796.35 1220.24H1134.24M796.35 1220.24v5.98M965.3 1220.24v5.98M1134.24 1220.24v5.98M699.76 692.72V1200.52M699.76 1200.52h-5.98M699.76 1115.89h-5.98M699.76 1031.25h-5.98M699.76 946.62h-5.98M699.76 861.99h-5.98M699.76 777.35h-5.98M699.76 692.72h-5.98" fill="none" stroke="#000" stroke-width="0.75"/>
<g font-size="10.5" text-anchor="middle">
<text x="796.35" y="1241.7">-500</text>
<text x="965.3" y="1241.7">0</text>
<text x="1134.24" y="1241.7">500</text>
<text transform="translate(685.4 1200.52) rotate(-90)">0.0000</text>
<text transform="translate(685.4 1115.89) rotate(-90)">0.0002</text>
<text transform="translate(685.4 1031.25) rotate(-90)">0.0004</text>
<text transform="translate(685.4 946.62) rotate(-90)">0.0006</text>
<text transform="translate(685.4 861.99) rotate(-90)">0.0008</text>
<text transform="translate(685.4 777.35) rotate(-90)">0.0010</text>
<text transform="translate(685.4 692.72) rotate(-90)">0.0012</text>
</g>
<text x="965.98" y="1265.7" font-size="15.95" text-anchor="middle">Distance to peak summit</text>
<text transform="translate(661.5 954.42) rotate(-90)" font-size="15.75" text-anchor="middle">Density</text>
<text x="965.98" y="671.9" font-size="21.55" font-weight="bold" text-anchor="middle">Enrichment zone: 9.50</text>
<g font-size="12.87">
<text x="1052.3" y="707.7">enrichment zone = 9.5</text><text x="1052.3" y="723.4">motif score threshold = 87.300</text><text x="1052.3" y="738.7">centrality p-val = NS</text></g>
<path d="M1017.4 703.5H1041.4" stroke="#006400" stroke-width="1.125" stroke-dasharray="1.125 3.375" stroke-linecap="round"/>
<path d="M1017.4 718.9H1041.4" stroke="#cd2626" stroke-width="1.125" stroke-dasharray="1.125 3.375" stroke-linecap="round"/>
<ellipse cx="1029.1" cy="734.5" rx="3.1" ry="2.65" fill="#00f"/>
</svg>
</body></html>
